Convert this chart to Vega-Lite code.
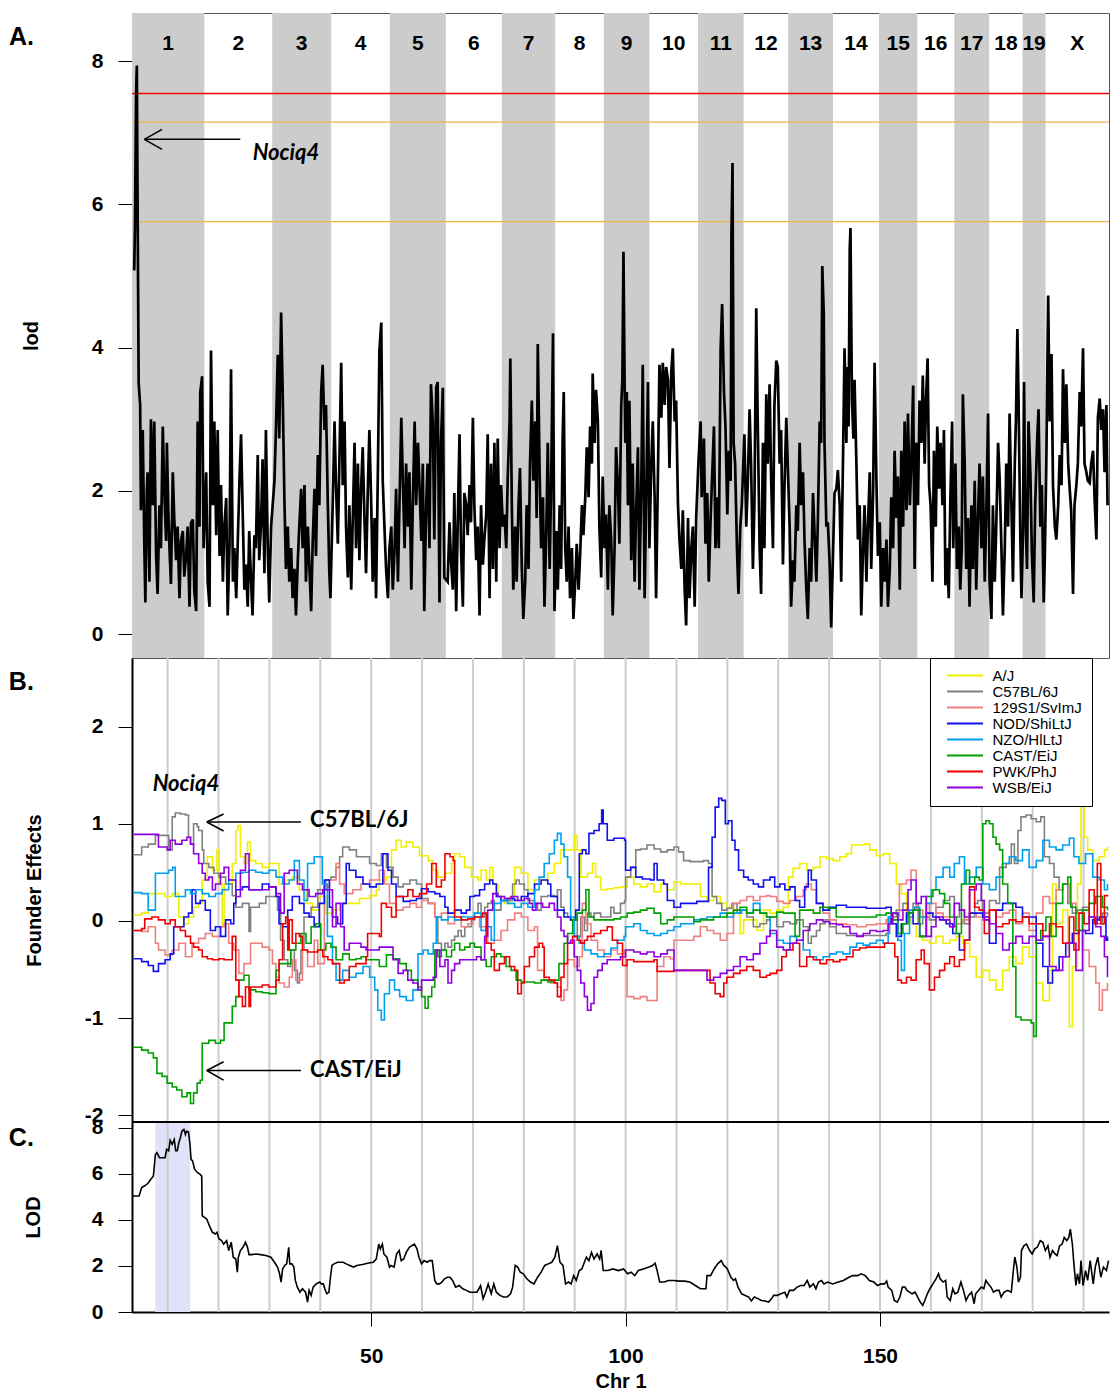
{
"$schema": "https://vega.github.io/schema/vega-lite/v6.json",
"background": "white",
"padding": {"left": 8, "top": 12, "right": 0, "bottom": 0},
"bounds": "flush",
"spacing": 0,
"config": {
 "view": {"stroke": null},
 "axis": {"labelFont": "Liberation Sans", "labelFontWeight": "bold", "labelFontSize": 21, "labelColor": "#000", "titleFont": "Liberation Sans", "titleFontWeight": "bold", "titleFontSize": 20, "titleColor": "#000", "tickColor": "#000", "domainColor": "#000", "grid": false, "labelExpr": "'' + datum.value"},
 "text": {"font": "Liberation Sans"}
},
"datasets": {
 "chroms": [{"chr":"1","start":0,"end":195,"mid":97.5,"shade":1},{"chr":"2","start":195,"end":378,"mid":286.5,"shade":0},{"chr":"3","start":378,"end":537,"mid":457.5,"shade":1},{"chr":"4","start":537,"end":695,"mid":616,"shade":0},{"chr":"5","start":695,"end":846,"mid":770.5,"shade":1},{"chr":"6","start":846,"end":997,"mid":921.5,"shade":0},{"chr":"7","start":997,"end":1141,"mid":1069,"shade":1},{"chr":"8","start":1141,"end":1272,"mid":1206.5,"shade":0},{"chr":"9","start":1272,"end":1395,"mid":1333.5,"shade":1},{"chr":"10","start":1395,"end":1526,"mid":1460.5,"shade":0},{"chr":"11","start":1526,"end":1649,"mid":1587.5,"shade":1},{"chr":"12","start":1649,"end":1769,"mid":1709,"shade":0},{"chr":"13","start":1769,"end":1890,"mid":1829.5,"shade":1},{"chr":"14","start":1890,"end":2014,"mid":1952,"shade":0},{"chr":"15","start":2014,"end":2117,"mid":2065.5,"shade":1},{"chr":"16","start":2117,"end":2217,"mid":2167,"shade":0},{"chr":"17","start":2217,"end":2311,"mid":2264,"shade":1},{"chr":"18","start":2311,"end":2401,"mid":2356,"shade":0},{"chr":"19","start":2401,"end":2463,"mid":2432,"shade":1},{"chr":"X","start":2463,"end":2634,"mid":2548.5,"shade":0}],
 "scan": [{"p":6,"l":5.08},{"p":8,"l":5.7},{"p":11,"l":7.55},{"p":13,"l":7.94},{"p":15,"l":6.1},{"p":18,"l":3.5},{"p":22,"l":3.2},{"p":24,"l":1.73},{"p":29,"l":2.85},{"p":33,"l":1.3},{"p":36,"l":0.44},{"p":40,"l":2.0},{"p":42,"l":2.26},{"p":47,"l":0.73},{"p":51,"l":3.0},{"p":56,"l":1.8},{"p":60,"l":2.97},{"p":65,"l":1.09},{"p":69,"l":0.56},{"p":74,"l":1.8},{"p":78,"l":1.2},{"p":83,"l":2.9},{"p":87,"l":2.0},{"p":92,"l":1.3},{"p":94,"l":2.67},{"p":98,"l":1.7},{"p":101,"l":1.2},{"p":105,"l":0.7},{"p":110,"l":2.26},{"p":114,"l":1.6},{"p":119,"l":1.03},{"p":123,"l":1.5},{"p":128,"l":0.5},{"p":132,"l":1.3},{"p":137,"l":1.44},{"p":141,"l":0.8},{"p":146,"l":1.1},{"p":150,"l":1.5},{"p":155,"l":0.38},{"p":159,"l":1.55},{"p":164,"l":1.6},{"p":168,"l":0.6},{"p":173,"l":0.32},{"p":177,"l":2.97},{"p":182,"l":1.5},{"p":184,"l":3.37},{"p":189,"l":3.6},{"p":191,"l":2.4},{"p":193,"l":1.2},
 {"p":200,"l":2.26},{"p":204,"l":0.73},{"p":209,"l":0.38},{"p":213,"l":3.96},{"p":218,"l":1.8},{"p":222,"l":2.97},{"p":227,"l":1.38},{"p":231,"l":2.85},{"p":236,"l":1.09},{"p":240,"l":2.08},{"p":245,"l":0.73},{"p":249,"l":1.5},{"p":254,"l":1.9},{"p":258,"l":0.26},{"p":263,"l":1.26},{"p":267,"l":3.7},{"p":272,"l":0.73},{"p":276,"l":1.2},{"p":281,"l":0.5},{"p":285,"l":1.26},{"p":290,"l":2.2},{"p":294,"l":2.79},{"p":298,"l":1.8},{"p":303,"l":0.62},{"p":307,"l":0.97},{"p":312,"l":0.38},{"p":316,"l":1.44},{"p":321,"l":0.73},{"p":325,"l":0.26},{"p":330,"l":1.38},{"p":334,"l":1.2},{"p":339,"l":2.5},{"p":343,"l":1.03},{"p":348,"l":1.56},{"p":352,"l":2.44},{"p":357,"l":0.85},{"p":361,"l":2.85},{"p":366,"l":1.2},{"p":370,"l":0.44},{"p":375,"l":1.5},
 {"p":384,"l":2.14},{"p":388,"l":2.85},{"p":393,"l":3.9},{"p":397,"l":2.73},{"p":402,"l":4.49},{"p":406,"l":3.44},{"p":411,"l":1.85},{"p":415,"l":0.91},{"p":420,"l":1.5},{"p":424,"l":0.73},{"p":429,"l":1.2},{"p":433,"l":0.5},{"p":438,"l":0.91},{"p":442,"l":0.26},{"p":447,"l":1.03},{"p":451,"l":1.5},{"p":456,"l":2.03},{"p":460,"l":1.2},{"p":465,"l":2.08},{"p":469,"l":0.73},{"p":474,"l":1.5},{"p":478,"l":0.97},{"p":483,"l":0.32},{"p":487,"l":1.26},{"p":492,"l":2.03},{"p":496,"l":1.09},{"p":501,"l":2.5},{"p":505,"l":1.8},{"p":510,"l":3.38},{"p":514,"l":3.76},{"p":519,"l":2.85},{"p":523,"l":3.2},{"p":528,"l":1.8},{"p":532,"l":0.85},{"p":535,"l":0.5},
 {"p":541,"l":1.8},{"p":546,"l":2.97},{"p":550,"l":2.08},{"p":555,"l":1.26},{"p":559,"l":2.38},{"p":564,"l":3.79},{"p":568,"l":2.08},{"p":573,"l":2.97},{"p":577,"l":1.5},{"p":582,"l":0.79},{"p":586,"l":1.8},{"p":591,"l":0.62},{"p":595,"l":1.56},{"p":600,"l":2.67},{"p":604,"l":1.2},{"p":609,"l":2.38},{"p":613,"l":1.03},{"p":618,"l":2.08},{"p":622,"l":2.61},{"p":627,"l":1.56},{"p":631,"l":0.85},{"p":636,"l":2.08},{"p":640,"l":2.85},{"p":645,"l":1.8},{"p":649,"l":0.73},{"p":654,"l":1.62},{"p":658,"l":0.5},{"p":663,"l":2.32},{"p":667,"l":3.96},{"p":672,"l":4.35},{"p":676,"l":2.14},{"p":681,"l":1.44},{"p":685,"l":0.91},{"p":690,"l":0.5},{"p":694,"l":1.2},
 {"p":699,"l":1.5},{"p":703,"l":0.62},{"p":708,"l":1.2},{"p":712,"l":2.03},{"p":717,"l":0.73},{"p":721,"l":1.8},{"p":726,"l":3.02},{"p":730,"l":2.2},{"p":735,"l":1.2},{"p":739,"l":2.38},{"p":744,"l":1.5},{"p":748,"l":2.26},{"p":753,"l":0.62},{"p":757,"l":1.8},{"p":762,"l":2.97},{"p":766,"l":1.8},{"p":771,"l":2.67},{"p":775,"l":2.08},{"p":780,"l":1.3},{"p":784,"l":2.38},{"p":788,"l":0.32},{"p":793,"l":1.8},{"p":797,"l":2.38},{"p":802,"l":1.2},{"p":806,"l":3.49},{"p":811,"l":2.97},{"p":815,"l":1.32},{"p":820,"l":3.44},{"p":824,"l":3.52},{"p":829,"l":0.44},{"p":833,"l":2.67},{"p":838,"l":3.44},{"p":842,"l":0.79},
 {"p":851,"l":0.73},{"p":856,"l":1.56},{"p":860,"l":1.03},{"p":865,"l":0.62},{"p":869,"l":1.97},{"p":874,"l":0.32},{"p":878,"l":1.5},{"p":883,"l":2.79},{"p":887,"l":1.2},{"p":892,"l":0.38},{"p":896,"l":1.97},{"p":901,"l":1.8},{"p":905,"l":1.38},{"p":910,"l":2.08},{"p":914,"l":1.56},{"p":919,"l":3.02},{"p":923,"l":1.8},{"p":928,"l":1.03},{"p":932,"l":1.5},{"p":937,"l":0.26},{"p":941,"l":1.8},{"p":946,"l":0.97},{"p":950,"l":1.32},{"p":955,"l":1.67},{"p":959,"l":2.79},{"p":964,"l":0.5},{"p":968,"l":2.38},{"p":973,"l":0.91},{"p":977,"l":2.67},{"p":982,"l":0.73},{"p":986,"l":2.73},{"p":991,"l":1.2},{"p":995,"l":2.08},
 {"p":1000,"l":1.5},{"p":1004,"l":1.67},{"p":1009,"l":1.2},{"p":1013,"l":2.2},{"p":1018,"l":2.97},{"p":1020,"l":3.85},{"p":1024,"l":1.8},{"p":1028,"l":0.62},{"p":1033,"l":1.5},{"p":1037,"l":0.73},{"p":1042,"l":1.8},{"p":1046,"l":2.32},{"p":1051,"l":0.91},{"p":1055,"l":0.21},{"p":1060,"l":0.73},{"p":1064,"l":1.8},{"p":1069,"l":0.91},{"p":1073,"l":2.38},{"p":1078,"l":3.26},{"p":1082,"l":2.14},{"p":1087,"l":2.97},{"p":1091,"l":1.62},{"p":1094,"l":4.05},{"p":1099,"l":2.26},{"p":1103,"l":1.2},{"p":1108,"l":1.91},{"p":1112,"l":0.38},{"p":1117,"l":1.44},{"p":1121,"l":2.67},{"p":1126,"l":0.91},{"p":1130,"l":2.08},{"p":1135,"l":4.2},{"p":1139,"l":0.32},
 {"p":1144,"l":1.44},{"p":1148,"l":0.62},{"p":1153,"l":1.8},{"p":1157,"l":0.91},{"p":1161,"l":2.73},{"p":1164,"l":3.38},{"p":1168,"l":1.2},{"p":1172,"l":0.73},{"p":1177,"l":1.5},{"p":1181,"l":0.5},{"p":1186,"l":1.2},{"p":1190,"l":0.21},{"p":1195,"l":0.73},{"p":1199,"l":1.26},{"p":1204,"l":0.62},{"p":1208,"l":1.09},{"p":1213,"l":1.8},{"p":1217,"l":1.38},{"p":1222,"l":1.91},{"p":1226,"l":2.61},{"p":1231,"l":1.91},{"p":1235,"l":2.9},{"p":1240,"l":2.38},{"p":1242,"l":3.64},{"p":1247,"l":2.67},{"p":1251,"l":3.41},{"p":1256,"l":2.97},{"p":1260,"l":1.5},{"p":1265,"l":0.79},{"p":1269,"l":2.2},
 {"p":1274,"l":1.2},{"p":1278,"l":1.67},{"p":1283,"l":0.62},{"p":1287,"l":1.8},{"p":1292,"l":1.32},{"p":1296,"l":0.26},{"p":1301,"l":1.2},{"p":1305,"l":2.61},{"p":1310,"l":2.08},{"p":1314,"l":1.26},{"p":1319,"l":3.2},{"p":1322,"l":3.55},{"p":1325,"l":5.34},{"p":1328,"l":3.55},{"p":1330,"l":2.67},{"p":1334,"l":3.38},{"p":1337,"l":1.8},{"p":1341,"l":3.26},{"p":1346,"l":1.03},{"p":1350,"l":2.38},{"p":1355,"l":0.73},{"p":1359,"l":1.67},{"p":1364,"l":2.61},{"p":1368,"l":0.62},{"p":1373,"l":2.08},{"p":1377,"l":3.76},{"p":1382,"l":0.5},{"p":1386,"l":1.8},{"p":1391,"l":3.52},
 {"p":1395,"l":1.2},{"p":1400,"l":2.38},{"p":1404,"l":2.97},{"p":1409,"l":1.91},{"p":1413,"l":0.5},{"p":1418,"l":2.26},{"p":1422,"l":3.76},{"p":1427,"l":3.02},{"p":1431,"l":3.79},{"p":1436,"l":3.2},{"p":1440,"l":3.73},{"p":1445,"l":3.55},{"p":1449,"l":2.32},{"p":1454,"l":3.67},{"p":1458,"l":3.99},{"p":1463,"l":2.97},{"p":1467,"l":3.26},{"p":1472,"l":1.8},{"p":1476,"l":1.32},{"p":1481,"l":0.91},{"p":1485,"l":1.73},{"p":1490,"l":0.62},{"p":1494,"l":0.12},{"p":1499,"l":1.62},{"p":1503,"l":0.5},{"p":1508,"l":1.2},{"p":1512,"l":1.5},{"p":1517,"l":0.38},{"p":1521,"l":1.62},
 {"p":1527,"l":2.38},{"p":1533,"l":2.97},{"p":1536,"l":1.91},{"p":1542,"l":2.73},{"p":1546,"l":1.26},{"p":1551,"l":1.97},{"p":1555,"l":0.73},{"p":1560,"l":1.62},{"p":1564,"l":2.2},{"p":1569,"l":2.9},{"p":1573,"l":1.2},{"p":1578,"l":1.91},{"p":1582,"l":1.2},{"p":1587,"l":3.99},{"p":1591,"l":4.61},{"p":1596,"l":3.38},{"p":1600,"l":2.9},{"p":1605,"l":1.67},{"p":1609,"l":2.56},{"p":1614,"l":2.14},{"p":1616,"l":5.55},{"p":1619,"l":6.58},{"p":1622,"l":2.67},{"p":1626,"l":2.38},{"p":1631,"l":1.2},{"p":1635,"l":0.56},{"p":1640,"l":1.5},{"p":1644,"l":1.8},
 {"p":1651,"l":2.79},{"p":1656,"l":1.5},{"p":1660,"l":2.08},{"p":1665,"l":3.14},{"p":1669,"l":2.38},{"p":1674,"l":0.91},{"p":1678,"l":1.8},{"p":1683,"l":4.55},{"p":1687,"l":2.97},{"p":1692,"l":1.2},{"p":1696,"l":0.56},{"p":1701,"l":2.67},{"p":1705,"l":1.2},{"p":1710,"l":3.35},{"p":1714,"l":2.38},{"p":1719,"l":3.49},{"p":1723,"l":2.2},{"p":1728,"l":1.2},{"p":1732,"l":3.2},{"p":1737,"l":3.82},{"p":1741,"l":3.73},{"p":1746,"l":2.38},{"p":1750,"l":2.85},{"p":1755,"l":0.97},{"p":1759,"l":2.03},{"p":1764,"l":3.02},
 {"p":1773,"l":1.5},{"p":1777,"l":0.38},{"p":1782,"l":1.03},{"p":1786,"l":0.73},{"p":1791,"l":1.8},{"p":1795,"l":1.44},{"p":1800,"l":2.67},{"p":1804,"l":1.8},{"p":1809,"l":2.26},{"p":1813,"l":1.32},{"p":1818,"l":0.62},{"p":1822,"l":0.21},{"p":1827,"l":1.2},{"p":1831,"l":0.73},{"p":1836,"l":1.97},{"p":1840,"l":1.44},{"p":1845,"l":0.73},{"p":1849,"l":1.56},{"p":1854,"l":2.97},{"p":1858,"l":2.67},{"p":1861,"l":5.14},{"p":1865,"l":4.49},{"p":1867,"l":2.67},{"p":1872,"l":1.5},{"p":1876,"l":1.56},{"p":1881,"l":0.97},{"p":1885,"l":0.09},
 {"p":1894,"l":1.97},{"p":1899,"l":2.03},{"p":1903,"l":2.29},{"p":1908,"l":1.8},{"p":1912,"l":0.73},{"p":1917,"l":2.5},{"p":1921,"l":3.99},{"p":1926,"l":2.67},{"p":1928,"l":3.73},{"p":1932,"l":2.9},{"p":1935,"l":5.37},{"p":1937,"l":5.67},{"p":1941,"l":3.26},{"p":1945,"l":2.73},{"p":1948,"l":3.55},{"p":1953,"l":2.38},{"p":1957,"l":1.32},{"p":1962,"l":1.8},{"p":1966,"l":0.26},{"p":1971,"l":1.2},{"p":1975,"l":1.8},{"p":1980,"l":0.73},{"p":1984,"l":1.5},{"p":1989,"l":2.26},{"p":1993,"l":0.91},{"p":1998,"l":1.97},{"p":2002,"l":3.79},{"p":2007,"l":2.14},{"p":2011,"l":1.09},
 {"p":2016,"l":1.56},{"p":2020,"l":0.38},{"p":2025,"l":1.2},{"p":2029,"l":0.73},{"p":2034,"l":1.32},{"p":2038,"l":0.38},{"p":2043,"l":0.91},{"p":2047,"l":1.91},{"p":2052,"l":1.2},{"p":2056,"l":2.56},{"p":2061,"l":1.62},{"p":2065,"l":2.2},{"p":2070,"l":0.62},{"p":2074,"l":2.56},{"p":2079,"l":1.5},{"p":2083,"l":2.97},{"p":2088,"l":1.73},{"p":2092,"l":3.08},{"p":2097,"l":1.8},{"p":2101,"l":2.38},{"p":2106,"l":3.47},{"p":2110,"l":0.91},{"p":2114,"l":2.67},
 {"p":2119,"l":1.8},{"p":2123,"l":3.26},{"p":2128,"l":2.67},{"p":2132,"l":3.61},{"p":2137,"l":2.38},{"p":2141,"l":3.32},{"p":2145,"l":3.85},{"p":2149,"l":2.08},{"p":2153,"l":1.8},{"p":2158,"l":0.73},{"p":2162,"l":2.56},{"p":2167,"l":1.5},{"p":2171,"l":2.9},{"p":2176,"l":2.03},{"p":2180,"l":2.67},{"p":2185,"l":1.8},{"p":2189,"l":2.85},{"p":2193,"l":0.68},{"p":2197,"l":1.2},{"p":2202,"l":0.5},{"p":2206,"l":1.8},{"p":2211,"l":2.97},{"p":2214,"l":1.2},
 {"p":2220,"l":2.38},{"p":2224,"l":0.91},{"p":2229,"l":1.5},{"p":2233,"l":0.62},{"p":2237,"l":1.2},{"p":2240,"l":3.35},{"p":2245,"l":2.38},{"p":2249,"l":0.91},{"p":2254,"l":1.62},{"p":2258,"l":0.38},{"p":2263,"l":1.8},{"p":2267,"l":0.91},{"p":2272,"l":2.14},{"p":2276,"l":0.62},{"p":2281,"l":1.67},{"p":2285,"l":2.38},{"p":2290,"l":1.2},{"p":2294,"l":2.2},{"p":2299,"l":0.73},{"p":2303,"l":1.62},{"p":2308,"l":3.08},
 {"p":2312,"l":0.73},{"p":2317,"l":0.21},{"p":2321,"l":1.8},{"p":2326,"l":0.73},{"p":2330,"l":1.5},{"p":2335,"l":2.67},{"p":2339,"l":2.2},{"p":2344,"l":1.2},{"p":2348,"l":0.26},{"p":2353,"l":1.2},{"p":2357,"l":2.38},{"p":2362,"l":1.5},{"p":2366,"l":3.08},{"p":2371,"l":1.8},{"p":2375,"l":0.73},{"p":2380,"l":2.38},{"p":2383,"l":2.97},{"p":2387,"l":4.26},{"p":2390,"l":3.32},{"p":2395,"l":1.32},{"p":2398,"l":0.5},
 {"p":2402,"l":1.38},{"p":2405,"l":3.52},{"p":2408,"l":1.8},{"p":2413,"l":0.91},{"p":2417,"l":2.97},{"p":2422,"l":2.26},{"p":2426,"l":1.14},{"p":2431,"l":0.44},{"p":2435,"l":1.8},{"p":2440,"l":2.67},{"p":2444,"l":3.14},{"p":2449,"l":1.5},{"p":2453,"l":2.08},{"p":2458,"l":0.44},{"p":2461,"l":1.09},
 {"p":2465,"l":2.38},{"p":2470,"l":4.73},{"p":2474,"l":2.97},{"p":2479,"l":3.91},{"p":2483,"l":2.08},{"p":2488,"l":1.5},{"p":2492,"l":1.32},{"p":2497,"l":1.8},{"p":2501,"l":2.5},{"p":2506,"l":2.08},{"p":2510,"l":3.7},{"p":2515,"l":2.67},{"p":2519,"l":3.49},{"p":2524,"l":2.38},{"p":2528,"l":2.03},{"p":2532,"l":1.73},{"p":2537,"l":0.56},{"p":2541,"l":1.8},{"p":2546,"l":2.08},{"p":2550,"l":2.38},{"p":2555,"l":3.38},{"p":2559,"l":2.9},{"p":2564,"l":3.99},{"p":2568,"l":2.38},{"p":2573,"l":2.26},{"p":2577,"l":2.14},{"p":2582,"l":2.11},{"p":2586,"l":2.38},{"p":2591,"l":2.56},{"p":2595,"l":1.91},{"p":2600,"l":1.32},{"p":2604,"l":3.02},{"p":2609,"l":3.29},{"p":2613,"l":2.85},{"p":2618,"l":3.14},{"p":2622,"l":2.26},{"p":2627,"l":3.2},{"p":2630,"l":1.8}],
 "arrA": [{"x":33.3,"y":6.91,"x2":292,"y2":6.91},{"x":33.3,"y":6.91,"x2":81,"y2":7.05},{"x":33.3,"y":6.91,"x2":81,"y2":6.77}],
 "arrB": [{"x":17.7,"y":1.017,"x2":36.2,"y2":1.017},{"x":17.7,"y":1.017,"x2":21.0,"y2":1.10},{"x":17.7,"y":1.017,"x2":21.0,"y2":0.925},{"x":17.7,"y":-1.54,"x2":36.2,"y2":-1.54},{"x":17.7,"y":-1.54,"x2":21.0,"y2":-1.45},{"x":17.7,"y":-1.54,"x2":21.0,"y2":-1.64}],
 "grid": [{"m":10},{"m":20},{"m":30},{"m":40},{"m":50},{"m":60},{"m":70},{"m":80},{"m":90},{"m":100},{"m":110},{"m":120},{"m":130},{"m":140},{"m":150},{"m":160},{"m":170},{"m":180},{"m":190}],
 "aj": [{"x":3.3,"y":0.06},{"x":4.9,"y":0.08},{"x":6.2,"y":0.28},{"x":8.2,"y":0.28},{"x":9.5,"y":0.25},{"x":10.9,"y":0.28},{"x":12.2,"y":0.04},{"x":13.2,"y":-0.03},{"x":14.1,"y":0.04},{"x":15.1,"y":0.14},{"x":16.1,"y":0.18},{"x":16.8,"y":0.42},{"x":17.8,"y":0.66},{"x":18.8,"y":0.52},{"x":19.7,"y":0.73},{"x":20.1,"y":0.38},{"x":20.7,"y":-0.06},{"x":21.1,"y":0.38},{"x":22.7,"y":0.59},{"x":23.4,"y":0.93},{"x":23.8,"y":0.98},{"x":24.3,"y":0.66},{"x":25.0,"y":0.59},{"x":25.7,"y":0.81},{"x":26.3,"y":0.62},{"x":27.3,"y":0.59},{"x":28.6,"y":0.55},{"x":29.9,"y":0.59},{"x":31.3,"y":0.59},{"x":31.9,"y":0.38},{"x":33.2,"y":0.42},{"x":34.5,"y":0.45},{"x":35.9,"y":0.32},{"x":37.2,"y":0.18},{"x":38.5,"y":0.11},{"x":39.8,"y":0.25},{"x":41.1,"y":0.08},{"x":42.4,"y":0.11},{"x":43.8,"y":0.18},{"x":45.7,"y":0.18},{"x":47.7,"y":0.23},{"x":49.7,"y":0.26},{"x":51.0,"y":0.32},{"x":51.6,"y":0.42},{"x":53.0,"y":0.45},{"x":54.0,"y":0.73},{"x":54.9,"y":0.83},{"x":55.9,"y":0.76},{"x":56.9,"y":0.81},{"x":58.2,"y":0.76},{"x":59.5,"y":0.67},{"x":61.2,"y":0.62},{"x":62.2,"y":0.52},{"x":63.1,"y":0.45},{"x":64.5,"y":0.49},{"x":65.8,"y":0.59},{"x":66.4,"y":0.69},{"x":67.4,"y":0.66},{"x":68.4,"y":0.55},{"x":69.7,"y":0.45},{"x":71.0,"y":0.42},{"x":71.6,"y":0.52},{"x":72.6,"y":0.42},{"x":73.3,"y":0.55},{"x":73.9,"y":0.38},{"x":74.9,"y":0.25},{"x":76.2,"y":0.18},{"x":77.2,"y":0.25},{"x":78.2,"y":0.55},{"x":79.5,"y":0.49},{"x":80.8,"y":0.32},{"x":82.1,"y":0.42},{"x":83.4,"y":0.42},{"x":84.7,"y":0.49},{"x":86.0,"y":0.59},{"x":87.3,"y":0.73},{"x":88.6,"y":0.73},{"x":89.9,"y":0.88},{"x":90.5,"y":0.73},{"x":91.2,"y":0.45},{"x":92.5,"y":0.49},{"x":93.5,"y":0.59},{"x":94.1,"y":0.45},{"x":95.1,"y":0.32},{"x":96.4,"y":0.33},{"x":97.7,"y":0.34},{"x":99.0,"y":0.35},{"x":100.3,"y":0.45},{"x":101.6,"y":0.38},{"x":102.9,"y":0.35},{"x":104.2,"y":0.38},{"x":105.6,"y":0.30},{"x":106.9,"y":0.38},{"x":108.2,"y":0.32},{"x":109.5,"y":0.40},{"x":110.8,"y":0.38},{"x":112.1,"y":0.38},{"x":113.4,"y":0.38},{"x":114.7,"y":0.25},{"x":116.0,"y":0.21},{"x":117.3,"y":0.25},{"x":118.6,"y":0.18},{"x":119.9,"y":0.14},{"x":121.2,"y":0.08},{"x":122.5,"y":-0.13},{"x":123.2,"y":0.01},{"x":124.5,"y":0.01},{"x":125.8,"y":-0.10},{"x":127.1,"y":0.11},{"x":128.4,"y":0.08},{"x":129.7,"y":0.11},{"x":131.0,"y":0.14},{"x":132.0,"y":0.45},{"x":132.9,"y":0.54},{"x":134.2,"y":0.59},{"x":135.6,"y":0.52},{"x":136.9,"y":0.55},{"x":138.2,"y":0.66},{"x":139.5,"y":0.64},{"x":140.8,"y":0.62},{"x":142.1,"y":0.66},{"x":143.4,"y":0.69},{"x":144.4,"y":0.78},{"x":145.7,"y":0.78},{"x":147.0,"y":0.79},{"x":148.0,"y":0.73},{"x":149.3,"y":0.67},{"x":150.6,"y":0.69},{"x":151.9,"y":0.59},{"x":153.2,"y":0.38},{"x":154.2,"y":0.28},{"x":155.2,"y":0.04},{"x":156.1,"y":-0.03},{"x":157.1,"y":-0.16},{"x":158.4,"y":-0.20},{"x":159.7,"y":-0.23},{"x":161.0,"y":-0.16},{"x":162.4,"y":-0.23},{"x":163.7,"y":-0.20},{"x":165.0,"y":-0.16},{"x":166.3,"y":-0.23},{"x":167.6,"y":-0.37},{"x":168.9,"y":-0.58},{"x":170.2,"y":-0.51},{"x":171.5,"y":-0.61},{"x":172.8,"y":-0.71},{"x":174.1,"y":-0.51},{"x":175.4,"y":-0.37},{"x":176.7,"y":-0.44},{"x":178.0,"y":-0.27},{"x":179.3,"y":-0.37},{"x":180.7,"y":-0.64},{"x":182.0,"y":-0.82},{"x":183.3,"y":-0.51},{"x":183.9,"y":0.38},{"x":184.6,"y":-0.03},{"x":185.9,"y":0.11},{"x":186.9,"y":-0.30},{"x":187.2,"y":-1.09},{"x":187.8,"y":-0.47},{"x":188.8,"y":0.38},{"x":189.5,"y":1.21},{"x":190.1,"y":0.86},{"x":190.8,"y":0.73},{"x":191.8,"y":0.62},{"x":193.1,"y":0.66},{"x":194.1,"y":0.73},{"x":194.7,"y":0.76}],
 "b6": [{"x":3.3,"y":0.68},{"x":4.9,"y":0.76},{"x":6.2,"y":0.79},{"x":7.6,"y":0.88},{"x":9.9,"y":0.88},{"x":10.2,"y":0.73},{"x":10.9,"y":1.07},{"x":11.5,"y":1.11},{"x":12.5,"y":1.10},{"x":13.5,"y":1.09},{"x":14.1,"y":0.86},{"x":14.5,"y":0.79},{"x":15.1,"y":1.0},{"x":15.8,"y":0.97},{"x":16.1,"y":0.93},{"x":16.8,"y":0.73},{"x":17.1,"y":0.59},{"x":18.1,"y":0.55},{"x":19.1,"y":0.49},{"x":20.1,"y":0.45},{"x":21.4,"y":0.38},{"x":22.7,"y":0.26},{"x":23.4,"y":0.14},{"x":24.7,"y":0.18},{"x":26.0,"y":-0.11},{"x":26.3,"y":0.14},{"x":28.0,"y":0.18},{"x":29.3,"y":0.25},{"x":30.6,"y":0.25},{"x":31.6,"y":0.11},{"x":32.2,"y":-0.20},{"x":32.9,"y":-0.40},{"x":33.6,"y":-0.47},{"x":34.2,"y":-0.30},{"x":34.9,"y":-0.51},{"x":35.5,"y":-0.64},{"x":35.9,"y":-0.54},{"x":36.2,"y":-0.30},{"x":36.8,"y":0.04},{"x":38.2,"y":0.14},{"x":39.5,"y":0.32},{"x":41.1,"y":0.42},{"x":42.1,"y":0.45},{"x":43.1,"y":0.55},{"x":43.8,"y":0.66},{"x":44.4,"y":0.76},{"x":45.7,"y":0.73},{"x":47.1,"y":0.66},{"x":48.4,"y":0.66},{"x":49.7,"y":0.59},{"x":51.0,"y":0.57},{"x":52.0,"y":0.69},{"x":53.0,"y":0.55},{"x":54.3,"y":0.45},{"x":55.3,"y":0.35},{"x":56.3,"y":0.38},{"x":57.6,"y":0.42},{"x":58.9,"y":0.38},{"x":59.9,"y":0.23},{"x":61.2,"y":0.18},{"x":62.5,"y":0.04},{"x":63.1,"y":-0.23},{"x":63.8,"y":-0.30},{"x":64.5,"y":-0.23},{"x":65.1,"y":-0.27},{"x":65.8,"y":-0.20},{"x":66.4,"y":-0.16},{"x":67.1,"y":-0.10},{"x":67.7,"y":-0.16},{"x":68.4,"y":-0.06},{"x":69.0,"y":-0.06},{"x":69.7,"y":0.01},{"x":70.3,"y":0.08},{"x":71.0,"y":0.18},{"x":71.6,"y":0.04},{"x":72.3,"y":0.14},{"x":72.9,"y":0.18},{"x":73.6,"y":0.21},{"x":74.2,"y":0.11},{"x":75.5,"y":0.21},{"x":76.8,"y":0.21},{"x":77.8,"y":0.38},{"x":78.5,"y":0.42},{"x":79.1,"y":0.38},{"x":80.1,"y":0.32},{"x":80.8,"y":0.21},{"x":82.1,"y":0.18},{"x":82.7,"y":0.11},{"x":83.4,"y":0.25},{"x":84.7,"y":0.26},{"x":86.0,"y":0.25},{"x":86.6,"y":0.32},{"x":87.3,"y":0.14},{"x":87.9,"y":0.08},{"x":88.6,"y":0.04},{"x":89.2,"y":0.01},{"x":89.9,"y":0.04},{"x":90.5,"y":-0.16},{"x":91.2,"y":0.04},{"x":91.9,"y":-0.10},{"x":92.5,"y":0.08},{"x":93.2,"y":0.04},{"x":93.8,"y":0.08},{"x":95.1,"y":0.04},{"x":96.4,"y":0.04},{"x":97.1,"y":0.14},{"x":97.7,"y":0.08},{"x":99.0,"y":0.18},{"x":99.8,"y":0.21},{"x":100.0,"y":0.45},{"x":101.0,"y":0.55},{"x":102.0,"y":0.73},{"x":102.9,"y":0.74},{"x":104.2,"y":0.78},{"x":105.6,"y":0.74},{"x":106.9,"y":0.71},{"x":108.2,"y":0.73},{"x":109.5,"y":0.76},{"x":110.4,"y":0.71},{"x":111.4,"y":0.62},{"x":112.7,"y":0.61},{"x":114.0,"y":0.61},{"x":115.3,"y":0.62},{"x":116.3,"y":0.59},{"x":117.0,"y":0.25},{"x":117.9,"y":0.18},{"x":118.9,"y":0.11},{"x":119.9,"y":0.13},{"x":120.9,"y":0.18},{"x":121.9,"y":0.08},{"x":122.8,"y":0.11},{"x":123.8,"y":0.04},{"x":125.1,"y":-0.06},{"x":126.4,"y":-0.03},{"x":127.7,"y":0.01},{"x":128.4,"y":0.04},{"x":129.7,"y":-0.06},{"x":131.0,"y":-0.01},{"x":132.3,"y":-0.03},{"x":133.6,"y":0.01},{"x":134.9,"y":-0.06},{"x":135.9,"y":-0.23},{"x":136.5,"y":-0.16},{"x":137.5,"y":-0.10},{"x":138.2,"y":-0.03},{"x":139.2,"y":0.01},{"x":140.1,"y":-0.06},{"x":141.4,"y":-0.13},{"x":143.4,"y":-0.15},{"x":145.4,"y":-0.15},{"x":147.3,"y":-0.15},{"x":149.3,"y":-0.15},{"x":151.2,"y":-0.13},{"x":151.9,"y":0.04},{"x":153.2,"y":0.11},{"x":154.5,"y":0.18},{"x":155.5,"y":0.04},{"x":156.5,"y":0.18},{"x":157.5,"y":-0.03},{"x":158.4,"y":0.04},{"x":159.7,"y":0.01},{"x":161.0,"y":0.14},{"x":162.4,"y":0.21},{"x":163.7,"y":0.25},{"x":164.6,"y":0.04},{"x":165.6,"y":0.11},{"x":166.6,"y":-0.03},{"x":167.6,"y":0.04},{"x":168.6,"y":0.18},{"x":169.2,"y":0.21},{"x":170.2,"y":0.08},{"x":171.5,"y":0.21},{"x":172.8,"y":0.18},{"x":173.5,"y":0.55},{"x":174.8,"y":0.59},{"x":175.8,"y":0.79},{"x":176.4,"y":0.59},{"x":177.1,"y":0.93},{"x":177.7,"y":1.07},{"x":178.7,"y":1.09},{"x":179.7,"y":1.05},{"x":180.7,"y":1.02},{"x":181.6,"y":1.07},{"x":182.3,"y":0.66},{"x":183.3,"y":0.59},{"x":184.2,"y":0.45},{"x":185.2,"y":0.32},{"x":185.9,"y":0.38},{"x":186.9,"y":0.18},{"x":187.8,"y":0.08},{"x":188.8,"y":0.11},{"x":189.8,"y":0.14},{"x":191.1,"y":0.04},{"x":192.4,"y":-0.03},{"x":193.7,"y":0.08},{"x":194.7,"y":0.04}],
 "s129": [{"x":3.3,"y":-0.10},{"x":4.9,"y":-0.11},{"x":6.2,"y":-0.06},{"x":7.6,"y":-0.23},{"x":8.2,"y":-0.30},{"x":9.5,"y":-0.35},{"x":10.9,"y":-0.30},{"x":12.2,"y":-0.23},{"x":13.5,"y":-0.37},{"x":14.8,"y":-0.23},{"x":16.1,"y":-0.18},{"x":17.4,"y":-0.13},{"x":18.8,"y":-0.16},{"x":20.4,"y":-0.06},{"x":21.1,"y":-0.03},{"x":22.0,"y":-0.23},{"x":23.0,"y":-0.30},{"x":24.0,"y":-0.54},{"x":25.0,"y":-0.44},{"x":26.3,"y":-0.23},{"x":27.3,"y":-0.23},{"x":28.6,"y":-0.27},{"x":29.9,"y":-0.30},{"x":30.6,"y":-0.44},{"x":31.3,"y":-0.58},{"x":31.9,"y":-0.64},{"x":32.9,"y":-0.68},{"x":33.9,"y":-0.58},{"x":34.5,"y":-0.40},{"x":35.2,"y":-0.61},{"x":36.5,"y":-0.30},{"x":37.5,"y":-0.47},{"x":38.8,"y":-0.20},{"x":39.5,"y":-0.44},{"x":40.8,"y":0.35},{"x":41.8,"y":0.42},{"x":43.1,"y":0.59},{"x":43.8,"y":0.38},{"x":44.7,"y":0.28},{"x":46.4,"y":0.32},{"x":48.0,"y":0.38},{"x":49.7,"y":0.42},{"x":51.6,"y":0.52},{"x":52.6,"y":0.38},{"x":53.6,"y":0.18},{"x":54.9,"y":0.11},{"x":56.3,"y":0.14},{"x":57.6,"y":0.18},{"x":58.9,"y":0.14},{"x":59.9,"y":0.21},{"x":61.2,"y":0.18},{"x":62.5,"y":0.04},{"x":63.8,"y":0.08},{"x":65.1,"y":-0.03},{"x":66.4,"y":0.01},{"x":67.7,"y":-0.06},{"x":69.0,"y":-0.03},{"x":70.0,"y":0.04},{"x":71.3,"y":-0.06},{"x":72.9,"y":-0.23},{"x":74.2,"y":-0.20},{"x":75.5,"y":-0.10},{"x":76.8,"y":0.01},{"x":78.2,"y":0.08},{"x":79.5,"y":0.04},{"x":80.8,"y":-0.10},{"x":82.1,"y":-0.06},{"x":82.7,"y":-0.51},{"x":84.0,"y":-0.61},{"x":85.3,"y":-0.64},{"x":86.6,"y":-0.68},{"x":87.3,"y":-0.82},{"x":87.9,"y":-0.71},{"x":88.6,"y":-0.40},{"x":89.9,"y":-0.47},{"x":90.9,"y":-0.37},{"x":91.5,"y":0.18},{"x":92.2,"y":-0.03},{"x":93.2,"y":-0.20},{"x":94.5,"y":-0.30},{"x":95.8,"y":-0.37},{"x":97.1,"y":-0.30},{"x":98.4,"y":-0.34},{"x":99.7,"y":-0.30},{"x":100.0,"y":-0.47},{"x":100.3,"y":-0.78},{"x":101.6,"y":-0.80},{"x":102.9,"y":-0.78},{"x":104.2,"y":-0.82},{"x":105.6,"y":-0.82},{"x":106.2,"y":-0.47},{"x":107.5,"y":-0.37},{"x":108.8,"y":-0.39},{"x":109.5,"y":-0.20},{"x":111.4,"y":-0.20},{"x":113.4,"y":-0.16},{"x":114.7,"y":-0.06},{"x":116.0,"y":-0.10},{"x":117.3,"y":-0.13},{"x":118.6,"y":-0.20},{"x":119.9,"y":-0.13},{"x":121.2,"y":0.18},{"x":122.5,"y":0.21},{"x":123.8,"y":0.25},{"x":125.1,"y":0.21},{"x":126.4,"y":0.25},{"x":127.7,"y":0.26},{"x":128.4,"y":0.25},{"x":129.7,"y":0.20},{"x":131.0,"y":0.18},{"x":132.3,"y":0.21},{"x":133.6,"y":0.25},{"x":134.9,"y":0.32},{"x":135.5,"y":0.38},{"x":136.5,"y":0.32},{"x":137.5,"y":0.18},{"x":138.8,"y":0.08},{"x":140.1,"y":0.01},{"x":141.4,"y":-0.03},{"x":143.4,"y":-0.04},{"x":145.4,"y":-0.06},{"x":147.3,"y":-0.04},{"x":149.3,"y":-0.03},{"x":151.2,"y":0.01},{"x":152.5,"y":0.04},{"x":153.8,"y":0.38},{"x":155.2,"y":0.42},{"x":156.1,"y":0.52},{"x":157.1,"y":0.11},{"x":158.4,"y":0.04},{"x":159.7,"y":0.18},{"x":161.0,"y":0.08},{"x":162.4,"y":0.04},{"x":163.7,"y":-0.06},{"x":165.0,"y":-0.03},{"x":166.3,"y":0.01},{"x":167.6,"y":0.08},{"x":168.9,"y":0.04},{"x":170.2,"y":0.01},{"x":171.5,"y":0.11},{"x":172.8,"y":0.04},{"x":174.1,"y":0.08},{"x":175.4,"y":0.11},{"x":176.7,"y":-0.03},{"x":178.0,"y":0.08},{"x":179.3,"y":-0.10},{"x":180.7,"y":0.08},{"x":182.0,"y":0.25},{"x":183.3,"y":0.18},{"x":184.6,"y":0.32},{"x":185.9,"y":0.38},{"x":187.2,"y":0.18},{"x":188.5,"y":0.08},{"x":189.8,"y":-0.30},{"x":191.1,"y":-0.47},{"x":192.4,"y":-0.64},{"x":193.1,"y":-0.92},{"x":193.7,"y":-0.71},{"x":194.7,"y":-0.64}],
 "nod": [{"x":3.3,"y":-0.39},{"x":4.9,"y":-0.42},{"x":6.2,"y":-0.46},{"x":7.2,"y":-0.52},{"x":8.2,"y":-0.44},{"x":9.5,"y":-0.40},{"x":10.5,"y":-0.34},{"x":11.2,"y":-0.06},{"x":12.2,"y":-0.06},{"x":13.2,"y":0.04},{"x":14.1,"y":0.08},{"x":14.8,"y":0.32},{"x":15.5,"y":0.18},{"x":16.4,"y":0.21},{"x":17.4,"y":0.11},{"x":18.4,"y":-0.10},{"x":19.4,"y":-0.06},{"x":20.4,"y":-0.16},{"x":21.4,"y":0.01},{"x":22.4,"y":-0.03},{"x":23.0,"y":0.18},{"x":23.4,"y":0.32},{"x":24.7,"y":0.35},{"x":26.0,"y":0.32},{"x":27.3,"y":0.32},{"x":28.6,"y":0.38},{"x":29.9,"y":0.35},{"x":31.3,"y":0.25},{"x":31.9,"y":-0.03},{"x":32.6,"y":-0.06},{"x":33.6,"y":0.11},{"x":34.5,"y":0.25},{"x":35.9,"y":0.18},{"x":36.8,"y":0.08},{"x":37.8,"y":0.04},{"x":38.8,"y":-0.06},{"x":39.8,"y":0.18},{"x":40.8,"y":0.42},{"x":41.8,"y":0.14},{"x":42.4,"y":0.04},{"x":43.4,"y":-0.03},{"x":44.4,"y":0.18},{"x":45.1,"y":0.59},{"x":45.7,"y":0.52},{"x":47.0,"y":0.45},{"x":48.4,"y":0.38},{"x":49.7,"y":0.35},{"x":51.0,"y":0.38},{"x":52.3,"y":0.69},{"x":53.3,"y":0.52},{"x":54.0,"y":0.38},{"x":54.9,"y":0.25},{"x":56.3,"y":0.20},{"x":57.6,"y":0.21},{"x":58.9,"y":0.23},{"x":59.9,"y":0.33},{"x":61.2,"y":0.30},{"x":62.5,"y":0.28},{"x":63.5,"y":0.25},{"x":64.5,"y":0.14},{"x":65.1,"y":0.08},{"x":66.4,"y":0.11},{"x":67.7,"y":0.08},{"x":68.7,"y":0.11},{"x":69.4,"y":0.25},{"x":70.3,"y":0.26},{"x":71.3,"y":0.32},{"x":72.3,"y":0.38},{"x":73.3,"y":0.42},{"x":73.9,"y":0.38},{"x":74.6,"y":0.25},{"x":75.5,"y":0.21},{"x":76.8,"y":0.23},{"x":78.2,"y":0.21},{"x":79.5,"y":0.25},{"x":80.8,"y":0.28},{"x":82.1,"y":0.38},{"x":83.4,"y":0.42},{"x":84.7,"y":0.38},{"x":85.3,"y":0.25},{"x":86.6,"y":0.11},{"x":87.9,"y":0.04},{"x":89.2,"y":0.01},{"x":90.2,"y":0.11},{"x":90.9,"y":0.69},{"x":91.5,"y":0.73},{"x":92.2,"y":0.69},{"x":92.8,"y":0.90},{"x":93.8,"y":0.93},{"x":94.8,"y":1.0},{"x":95.3,"y":1.14},{"x":95.6,"y":1.0},{"x":96.4,"y":0.83},{"x":97.7,"y":0.85},{"x":99.0,"y":0.85},{"x":99.8,"y":0.83},{"x":100.0,"y":0.52},{"x":101.0,"y":0.55},{"x":102.0,"y":0.45},{"x":103.3,"y":0.43},{"x":104.9,"y":0.42},{"x":105.6,"y":0.59},{"x":106.2,"y":0.42},{"x":107.5,"y":0.38},{"x":108.2,"y":0.21},{"x":109.5,"y":0.14},{"x":110.8,"y":0.18},{"x":112.1,"y":0.18},{"x":114.0,"y":0.20},{"x":115.7,"y":0.20},{"x":116.3,"y":0.55},{"x":117.0,"y":0.86},{"x":117.6,"y":1.17},{"x":118.3,"y":1.26},{"x":118.9,"y":1.24},{"x":119.6,"y":1.0},{"x":120.2,"y":1.03},{"x":120.9,"y":0.83},{"x":121.5,"y":0.73},{"x":122.2,"y":0.52},{"x":123.2,"y":0.45},{"x":124.1,"y":0.42},{"x":125.1,"y":0.38},{"x":126.1,"y":0.35},{"x":127.1,"y":0.42},{"x":128.4,"y":0.45},{"x":129.3,"y":0.35},{"x":130.3,"y":0.38},{"x":131.3,"y":0.32},{"x":132.3,"y":0.35},{"x":133.3,"y":0.21},{"x":134.2,"y":0.14},{"x":135.2,"y":0.35},{"x":135.9,"y":0.52},{"x":136.5,"y":0.42},{"x":137.5,"y":0.18},{"x":138.8,"y":0.11},{"x":140.1,"y":0.14},{"x":141.4,"y":0.16},{"x":143.4,"y":0.14},{"x":145.4,"y":0.14},{"x":147.3,"y":0.13},{"x":149.3,"y":0.13},{"x":151.2,"y":0.14},{"x":152.2,"y":-0.03},{"x":153.2,"y":-0.16},{"x":154.2,"y":-0.03},{"x":155.2,"y":0.08},{"x":156.5,"y":-0.03},{"x":157.8,"y":-0.16},{"x":159.1,"y":0.08},{"x":160.4,"y":0.04},{"x":161.7,"y":0.01},{"x":163.0,"y":-0.03},{"x":164.3,"y":-0.13},{"x":165.6,"y":-0.30},{"x":166.6,"y":-0.20},{"x":167.6,"y":0.08},{"x":168.9,"y":0.08},{"x":170.2,"y":0.04},{"x":171.5,"y":-0.23},{"x":172.8,"y":0.11},{"x":174.1,"y":0.18},{"x":175.4,"y":0.18},{"x":176.7,"y":0.14},{"x":178.0,"y":0.04},{"x":179.3,"y":0.04},{"x":180.7,"y":-0.23},{"x":182.0,"y":-0.47},{"x":183.0,"y":-0.64},{"x":183.9,"y":-0.51},{"x":185.2,"y":-0.37},{"x":186.5,"y":-0.23},{"x":187.8,"y":-0.13},{"x":189.1,"y":-0.10},{"x":190.4,"y":-0.13},{"x":191.8,"y":0.01},{"x":193.1,"y":0.04},{"x":194.4,"y":-0.20},{"x":194.7,"y":-0.16}],
 "nzo": [{"x":3.3,"y":0.29},{"x":4.9,"y":0.28},{"x":6.2,"y":0.11},{"x":7.6,"y":0.49},{"x":8.9,"y":0.49},{"x":10.2,"y":0.52},{"x":11.0,"y":0.55},{"x":11.5,"y":0.25},{"x":12.5,"y":0.25},{"x":13.5,"y":0.32},{"x":14.5,"y":0.28},{"x":15.5,"y":0.32},{"x":16.8,"y":0.28},{"x":18.1,"y":0.25},{"x":19.4,"y":0.28},{"x":20.7,"y":0.32},{"x":22.0,"y":0.42},{"x":23.4,"y":0.49},{"x":24.7,"y":0.50},{"x":26.0,"y":0.52},{"x":27.3,"y":0.50},{"x":28.6,"y":0.49},{"x":29.9,"y":0.52},{"x":31.3,"y":0.45},{"x":32.6,"y":0.38},{"x":33.9,"y":0.42},{"x":34.9,"y":0.62},{"x":35.9,"y":0.42},{"x":36.8,"y":0.21},{"x":37.5,"y":0.59},{"x":38.8,"y":0.66},{"x":39.8,"y":0.66},{"x":40.4,"y":0.38},{"x":41.4,"y":-0.16},{"x":42.4,"y":-0.44},{"x":43.1,"y":-0.61},{"x":44.4,"y":-0.51},{"x":45.7,"y":-0.58},{"x":47.0,"y":-0.54},{"x":48.4,"y":-0.47},{"x":49.7,"y":-0.58},{"x":50.7,"y":-0.71},{"x":51.3,"y":-0.92},{"x":52.0,"y":-1.02},{"x":52.6,"y":-0.75},{"x":53.6,"y":-0.61},{"x":54.6,"y":-0.71},{"x":55.6,"y":-0.78},{"x":56.9,"y":-0.82},{"x":58.2,"y":-0.71},{"x":59.2,"y":-0.34},{"x":60.2,"y":-0.30},{"x":61.2,"y":-0.34},{"x":62.2,"y":-0.23},{"x":62.8,"y":0.04},{"x":63.8,"y":0.01},{"x":65.1,"y":0.04},{"x":66.4,"y":0.01},{"x":67.7,"y":0.04},{"x":69.0,"y":0.04},{"x":70.3,"y":0.08},{"x":71.6,"y":-0.10},{"x":72.6,"y":-0.06},{"x":73.6,"y":-0.20},{"x":74.2,"y":0.18},{"x":75.5,"y":0.21},{"x":76.8,"y":0.18},{"x":78.2,"y":0.14},{"x":79.5,"y":0.18},{"x":80.8,"y":0.14},{"x":82.1,"y":0.32},{"x":83.0,"y":0.45},{"x":84.0,"y":0.59},{"x":85.0,"y":0.69},{"x":86.0,"y":0.83},{"x":86.6,"y":0.90},{"x":87.3,"y":0.79},{"x":87.9,"y":0.66},{"x":88.6,"y":0.45},{"x":89.2,"y":0.04},{"x":89.9,"y":-0.16},{"x":90.9,"y":-0.23},{"x":91.9,"y":-0.30},{"x":93.2,"y":-0.34},{"x":94.5,"y":-0.37},{"x":95.8,"y":-0.34},{"x":97.1,"y":-0.28},{"x":98.4,"y":-0.20},{"x":99.7,"y":-0.16},{"x":100.0,"y":-0.06},{"x":101.6,"y":-0.03},{"x":102.9,"y":-0.10},{"x":104.2,"y":-0.13},{"x":105.6,"y":-0.15},{"x":106.9,"y":-0.13},{"x":108.2,"y":-0.10},{"x":109.5,"y":-0.06},{"x":110.8,"y":-0.03},{"x":112.1,"y":-0.03},{"x":113.4,"y":0.01},{"x":114.7,"y":0.02},{"x":116.0,"y":0.04},{"x":117.3,"y":0.04},{"x":118.6,"y":0.08},{"x":119.9,"y":0.04},{"x":121.2,"y":0.08},{"x":122.5,"y":0.11},{"x":123.8,"y":0.08},{"x":125.1,"y":0.18},{"x":126.4,"y":0.08},{"x":127.7,"y":0.04},{"x":128.4,"y":-0.13},{"x":129.7,"y":-0.20},{"x":131.0,"y":-0.23},{"x":132.3,"y":-0.16},{"x":133.6,"y":-0.20},{"x":134.9,"y":-0.30},{"x":136.2,"y":-0.37},{"x":137.5,"y":-0.40},{"x":138.8,"y":-0.37},{"x":140.1,"y":-0.34},{"x":141.4,"y":-0.32},{"x":142.7,"y":-0.34},{"x":144.1,"y":-0.27},{"x":145.4,"y":-0.23},{"x":146.7,"y":-0.25},{"x":148.0,"y":-0.23},{"x":149.3,"y":-0.20},{"x":150.6,"y":-0.23},{"x":151.6,"y":0.04},{"x":152.5,"y":0.08},{"x":153.5,"y":-0.20},{"x":154.2,"y":-0.51},{"x":154.8,"y":-0.13},{"x":155.8,"y":0.11},{"x":156.8,"y":0.14},{"x":157.8,"y":0.04},{"x":159.1,"y":0.18},{"x":160.1,"y":0.32},{"x":161.0,"y":0.45},{"x":162.4,"y":0.55},{"x":163.7,"y":0.45},{"x":164.6,"y":0.59},{"x":165.6,"y":0.66},{"x":166.6,"y":0.38},{"x":167.6,"y":0.45},{"x":168.9,"y":0.55},{"x":170.2,"y":0.38},{"x":171.5,"y":0.32},{"x":172.8,"y":0.45},{"x":174.1,"y":0.59},{"x":175.4,"y":0.66},{"x":176.7,"y":0.62},{"x":178.0,"y":0.73},{"x":179.3,"y":0.55},{"x":180.7,"y":0.62},{"x":182.0,"y":0.83},{"x":183.3,"y":0.76},{"x":184.6,"y":0.73},{"x":185.9,"y":0.78},{"x":187.2,"y":0.85},{"x":188.1,"y":0.66},{"x":189.1,"y":0.59},{"x":190.4,"y":0.69},{"x":191.8,"y":0.45},{"x":193.1,"y":0.42},{"x":194.1,"y":0.32},{"x":194.7,"y":0.38}],
 "cast": [{"x":3.3,"y":-1.30},{"x":4.9,"y":-1.33},{"x":6.2,"y":-1.36},{"x":7.2,"y":-1.41},{"x":7.9,"y":-1.57},{"x":8.9,"y":-1.60},{"x":9.9,"y":-1.67},{"x":10.9,"y":-1.71},{"x":11.8,"y":-1.74},{"x":12.8,"y":-1.81},{"x":13.8,"y":-1.77},{"x":14.5,"y":-1.88},{"x":15.1,"y":-1.77},{"x":15.8,"y":-1.67},{"x":16.4,"y":-1.64},{"x":16.8,"y":-1.26},{"x":18.1,"y":-1.23},{"x":19.4,"y":-1.26},{"x":20.4,"y":-1.23},{"x":21.1,"y":-1.05},{"x":22.0,"y":-1.05},{"x":22.7,"y":-0.88},{"x":23.4,"y":-0.78},{"x":24.0,"y":-0.61},{"x":25.0,"y":-0.56},{"x":26.0,"y":-0.71},{"x":27.3,"y":-0.73},{"x":28.6,"y":-0.74},{"x":29.9,"y":-0.75},{"x":30.6,"y":-0.75},{"x":31.3,"y":-0.51},{"x":31.9,"y":-0.44},{"x":33.2,"y":-0.44},{"x":34.2,"y":-0.30},{"x":35.2,"y":-0.23},{"x":36.2,"y":-0.13},{"x":37.2,"y":-0.23},{"x":38.2,"y":-0.06},{"x":39.1,"y":-0.03},{"x":40.1,"y":-0.30},{"x":41.1,"y":-0.23},{"x":42.1,"y":-0.27},{"x":43.1,"y":-0.40},{"x":44.4,"y":-0.34},{"x":45.7,"y":-0.40},{"x":47.0,"y":-0.39},{"x":48.0,"y":-0.37},{"x":49.0,"y":-0.40},{"x":50.3,"y":-0.40},{"x":51.6,"y":-0.47},{"x":53.0,"y":-0.35},{"x":54.3,"y":-0.39},{"x":55.6,"y":-0.44},{"x":56.9,"y":-0.51},{"x":57.9,"y":-0.61},{"x":59.2,"y":-0.68},{"x":59.9,"y":-0.78},{"x":60.6,"y":-0.90},{"x":61.2,"y":-0.78},{"x":61.9,"y":-0.68},{"x":62.5,"y":-0.30},{"x":63.1,"y":-0.37},{"x":63.8,"y":-0.30},{"x":64.8,"y":-0.37},{"x":65.8,"y":-0.30},{"x":66.4,"y":-0.23},{"x":67.4,"y":-0.30},{"x":68.4,"y":-0.27},{"x":69.4,"y":-0.23},{"x":70.3,"y":-0.27},{"x":71.6,"y":-0.40},{"x":72.6,"y":-0.47},{"x":73.6,"y":-0.37},{"x":74.6,"y":-0.34},{"x":75.5,"y":-0.37},{"x":76.5,"y":-0.47},{"x":77.5,"y":-0.51},{"x":78.5,"y":-0.61},{"x":79.5,"y":-0.63},{"x":80.8,"y":-0.63},{"x":82.1,"y":-0.64},{"x":83.4,"y":-0.61},{"x":84.7,"y":-0.63},{"x":86.0,"y":-0.61},{"x":86.9,"y":-0.44},{"x":87.9,"y":-0.23},{"x":88.6,"y":-0.13},{"x":89.6,"y":0.01},{"x":90.5,"y":0.08},{"x":91.5,"y":0.11},{"x":92.2,"y":0.32},{"x":92.8,"y":0.04},{"x":93.8,"y":0.01},{"x":95.1,"y":0.01},{"x":96.4,"y":0.01},{"x":97.7,"y":0.02},{"x":99.0,"y":0.04},{"x":100.3,"y":0.08},{"x":101.6,"y":0.09},{"x":102.9,"y":0.11},{"x":104.2,"y":0.13},{"x":105.6,"y":0.08},{"x":106.9,"y":-0.03},{"x":108.2,"y":0.01},{"x":109.5,"y":0.04},{"x":110.8,"y":0.04},{"x":112.1,"y":0.04},{"x":113.4,"y":-0.01},{"x":114.7,"y":0.01},{"x":116.0,"y":0.01},{"x":117.3,"y":0.04},{"x":118.6,"y":0.04},{"x":119.9,"y":0.08},{"x":121.2,"y":0.11},{"x":122.5,"y":0.14},{"x":123.8,"y":0.08},{"x":125.1,"y":0.11},{"x":126.4,"y":0.08},{"x":127.7,"y":0.04},{"x":129.7,"y":0.09},{"x":131.0,"y":0.08},{"x":132.3,"y":0.08},{"x":133.3,"y":-0.16},{"x":134.2,"y":0.11},{"x":135.6,"y":0.11},{"x":136.9,"y":0.08},{"x":138.2,"y":0.14},{"x":139.8,"y":0.13},{"x":141.4,"y":0.04},{"x":143.4,"y":0.04},{"x":145.4,"y":0.04},{"x":147.3,"y":0.04},{"x":149.3,"y":0.06},{"x":151.2,"y":0.08},{"x":152.5,"y":0.01},{"x":153.5,"y":-0.13},{"x":154.5,"y":-0.03},{"x":155.5,"y":0.08},{"x":156.5,"y":0.11},{"x":157.8,"y":-0.16},{"x":159.1,"y":0.25},{"x":160.4,"y":0.32},{"x":161.7,"y":0.28},{"x":162.7,"y":0.18},{"x":163.7,"y":0.04},{"x":165.0,"y":-0.13},{"x":166.0,"y":0.38},{"x":166.9,"y":0.52},{"x":167.6,"y":0.38},{"x":168.6,"y":0.45},{"x":169.5,"y":0.42},{"x":170.2,"y":1.0},{"x":170.8,"y":1.03},{"x":171.5,"y":1.0},{"x":172.2,"y":0.86},{"x":172.8,"y":0.79},{"x":173.5,"y":0.73},{"x":174.1,"y":0.38},{"x":175.1,"y":0.18},{"x":176.1,"y":-0.47},{"x":176.7,"y":-0.99},{"x":177.7,"y":-1.02},{"x":178.7,"y":-1.02},{"x":179.7,"y":-1.05},{"x":180.2,"y":-1.19},{"x":180.7,"y":-0.20},{"x":181.6,"y":-0.10},{"x":182.6,"y":0.04},{"x":183.6,"y":-0.16},{"x":184.6,"y":0.18},{"x":185.9,"y":0.38},{"x":186.9,"y":0.45},{"x":187.5,"y":0.14},{"x":188.5,"y":-0.10},{"x":189.8,"y":0.11},{"x":191.1,"y":0.18},{"x":192.4,"y":0.25},{"x":193.7,"y":0.14},{"x":194.7,"y":0.11}],
 "pwk": [{"x":3.3,"y":-0.10},{"x":4.9,"y":-0.08},{"x":5.5,"y":0.02},{"x":6.9,"y":0.04},{"x":8.2,"y":0.01},{"x":9.5,"y":-0.03},{"x":10.5,"y":0.01},{"x":11.5,"y":-0.06},{"x":12.5,"y":-0.10},{"x":13.5,"y":-0.16},{"x":14.5,"y":-0.23},{"x":15.1,"y":-0.27},{"x":16.1,"y":-0.30},{"x":16.8,"y":-0.37},{"x":17.8,"y":-0.39},{"x":18.8,"y":-0.40},{"x":20.1,"y":-0.39},{"x":21.1,"y":-0.40},{"x":22.4,"y":-0.40},{"x":22.7,"y":-0.16},{"x":23.4,"y":-0.61},{"x":24.0,"y":-0.78},{"x":24.7,"y":-0.88},{"x":25.3,"y":-0.68},{"x":26.0,"y":-0.88},{"x":26.3,"y":-0.68},{"x":27.3,"y":-0.68},{"x":28.6,"y":-0.66},{"x":29.9,"y":-0.68},{"x":31.3,"y":-0.61},{"x":31.9,"y":-0.40},{"x":32.6,"y":-0.03},{"x":33.2,"y":0.04},{"x":33.6,"y":-0.30},{"x":33.9,"y":0.01},{"x":34.5,"y":-0.23},{"x":35.2,"y":-0.13},{"x":35.9,"y":-0.16},{"x":36.5,"y":-0.30},{"x":37.5,"y":-0.32},{"x":38.5,"y":-0.32},{"x":39.5,"y":-0.30},{"x":40.5,"y":-0.37},{"x":41.5,"y":-0.40},{"x":42.4,"y":-0.44},{"x":43.8,"y":-0.64},{"x":44.7,"y":-0.61},{"x":45.7,"y":-0.47},{"x":47.0,"y":-0.44},{"x":48.0,"y":-0.44},{"x":49.0,"y":-0.37},{"x":49.3,"y":-0.13},{"x":50.3,"y":-0.13},{"x":51.6,"y":-0.16},{"x":52.0,"y":0.18},{"x":53.0,"y":0.14},{"x":54.0,"y":0.04},{"x":54.9,"y":0.25},{"x":56.3,"y":0.25},{"x":57.2,"y":0.32},{"x":58.2,"y":0.25},{"x":59.5,"y":0.28},{"x":60.9,"y":0.38},{"x":61.9,"y":0.59},{"x":62.8,"y":0.35},{"x":63.8,"y":0.42},{"x":64.5,"y":0.69},{"x":65.5,"y":0.66},{"x":66.1,"y":0.62},{"x":66.4,"y":0.04},{"x":67.7,"y":0.01},{"x":69.0,"y":0.02},{"x":70.3,"y":0.04},{"x":71.3,"y":0.04},{"x":71.9,"y":0.08},{"x":72.6,"y":-0.23},{"x":73.6,"y":-0.30},{"x":74.2,"y":-0.51},{"x":75.2,"y":-0.44},{"x":76.2,"y":-0.37},{"x":77.2,"y":-0.47},{"x":78.2,"y":-0.51},{"x":78.8,"y":-0.75},{"x":79.5,"y":-0.64},{"x":80.1,"y":-0.47},{"x":81.1,"y":-0.37},{"x":82.1,"y":-0.27},{"x":83.0,"y":-0.23},{"x":83.7,"y":-0.27},{"x":84.0,"y":-0.58},{"x":85.0,"y":-0.61},{"x":86.0,"y":-0.64},{"x":86.6,"y":-0.78},{"x":87.3,"y":-0.58},{"x":87.9,"y":-0.44},{"x":88.6,"y":-0.23},{"x":89.6,"y":-0.16},{"x":90.5,"y":-0.20},{"x":91.2,"y":-0.23},{"x":91.9,"y":-0.20},{"x":92.5,"y":-0.16},{"x":93.2,"y":-0.16},{"x":93.8,"y":-0.13},{"x":95.1,"y":-0.10},{"x":96.4,"y":-0.06},{"x":97.4,"y":-0.20},{"x":98.4,"y":-0.23},{"x":99.0,"y":-0.23},{"x":99.4,"y":-0.46},{"x":100.3,"y":-0.40},{"x":101.6,"y":-0.42},{"x":102.9,"y":-0.42},{"x":104.2,"y":-0.42},{"x":105.6,"y":-0.40},{"x":106.2,"y":-0.52},{"x":107.5,"y":-0.52},{"x":109.5,"y":-0.51},{"x":111.4,"y":-0.51},{"x":113.4,"y":-0.51},{"x":115.3,"y":-0.51},{"x":116.6,"y":-0.64},{"x":117.6,"y":-0.75},{"x":118.6,"y":-0.78},{"x":119.3,"y":-0.64},{"x":119.9,"y":-0.58},{"x":121.2,"y":-0.54},{"x":122.5,"y":-0.51},{"x":123.8,"y":-0.47},{"x":125.1,"y":-0.51},{"x":126.4,"y":-0.58},{"x":127.7,"y":-0.56},{"x":128.4,"y":-0.54},{"x":129.7,"y":-0.51},{"x":130.7,"y":-0.37},{"x":131.6,"y":-0.30},{"x":132.9,"y":-0.23},{"x":134.2,"y":-0.47},{"x":135.6,"y":-0.37},{"x":136.9,"y":-0.40},{"x":138.2,"y":-0.44},{"x":139.5,"y":-0.40},{"x":140.8,"y":-0.42},{"x":142.1,"y":-0.40},{"x":143.4,"y":-0.37},{"x":144.7,"y":-0.30},{"x":146.0,"y":-0.28},{"x":147.3,"y":-0.27},{"x":148.6,"y":-0.27},{"x":149.9,"y":-0.27},{"x":150.9,"y":-0.23},{"x":151.9,"y":-0.23},{"x":152.9,"y":-0.37},{"x":153.5,"y":-0.61},{"x":154.2,"y":-0.64},{"x":155.2,"y":-0.58},{"x":156.1,"y":-0.61},{"x":157.1,"y":-0.40},{"x":158.1,"y":-0.30},{"x":158.7,"y":-0.44},{"x":159.7,"y":-0.71},{"x":160.7,"y":-0.58},{"x":161.7,"y":-0.51},{"x":162.7,"y":-0.44},{"x":163.7,"y":-0.37},{"x":164.6,"y":-0.47},{"x":165.6,"y":-0.40},{"x":166.6,"y":-0.20},{"x":167.6,"y":0.35},{"x":168.6,"y":0.14},{"x":169.5,"y":0.11},{"x":170.5,"y":-0.13},{"x":171.5,"y":0.11},{"x":172.8,"y":-0.06},{"x":174.1,"y":-0.03},{"x":175.4,"y":0.01},{"x":176.7,"y":-0.01},{"x":178.0,"y":0.04},{"x":179.3,"y":-0.03},{"x":180.7,"y":-0.03},{"x":182.0,"y":-0.16},{"x":183.3,"y":-0.03},{"x":184.6,"y":-0.06},{"x":185.9,"y":-0.23},{"x":187.2,"y":0.04},{"x":188.1,"y":-0.30},{"x":189.1,"y":0.08},{"x":190.1,"y":-0.03},{"x":191.1,"y":0.32},{"x":192.1,"y":-0.03},{"x":192.7,"y":0.59},{"x":193.4,"y":-0.03},{"x":194.1,"y":0.26},{"x":194.7,"y":0.25}],
 "wsb": [{"x":3.3,"y":0.89},{"x":4.9,"y":0.89},{"x":7.6,"y":0.89},{"x":8.2,"y":0.76},{"x":9.9,"y":0.73},{"x":10.5,"y":0.83},{"x":11.5,"y":0.79},{"x":12.8,"y":0.83},{"x":13.8,"y":0.86},{"x":14.5,"y":0.79},{"x":15.1,"y":0.69},{"x":16.1,"y":0.59},{"x":16.8,"y":0.49},{"x":17.4,"y":0.42},{"x":18.1,"y":0.45},{"x":18.8,"y":0.32},{"x":19.4,"y":0.38},{"x":20.4,"y":0.49},{"x":21.1,"y":0.55},{"x":22.0,"y":0.42},{"x":23.4,"y":0.25},{"x":24.3,"y":0.52},{"x":25.3,"y":0.69},{"x":26.0,"y":0.32},{"x":27.3,"y":0.32},{"x":28.6,"y":0.32},{"x":29.9,"y":0.35},{"x":31.3,"y":0.28},{"x":32.2,"y":0.08},{"x":32.9,"y":0.49},{"x":33.9,"y":0.52},{"x":34.9,"y":0.52},{"x":35.5,"y":0.38},{"x":36.5,"y":0.32},{"x":37.8,"y":0.25},{"x":39.1,"y":0.28},{"x":40.5,"y":0.32},{"x":41.8,"y":0.32},{"x":42.4,"y":-0.06},{"x":43.1,"y":0.18},{"x":44.0,"y":-0.06},{"x":44.7,"y":-0.30},{"x":45.7,"y":-0.23},{"x":47.0,"y":-0.23},{"x":48.0,"y":-0.27},{"x":49.0,"y":-0.30},{"x":50.3,"y":-0.30},{"x":51.6,"y":-0.27},{"x":53.0,"y":-0.27},{"x":54.3,"y":-0.40},{"x":55.3,"y":-0.54},{"x":56.3,"y":-0.51},{"x":57.2,"y":-0.61},{"x":58.2,"y":-0.64},{"x":59.2,"y":-0.71},{"x":59.9,"y":-0.61},{"x":61.2,"y":-0.61},{"x":62.2,"y":-0.58},{"x":62.8,"y":-0.30},{"x":63.5,"y":-0.47},{"x":64.5,"y":-0.40},{"x":65.1,"y":-0.64},{"x":65.8,"y":-0.51},{"x":66.4,"y":-0.44},{"x":67.4,"y":-0.40},{"x":68.4,"y":-0.40},{"x":69.7,"y":-0.40},{"x":70.7,"y":-0.37},{"x":71.6,"y":-0.40},{"x":72.3,"y":-0.16},{"x":72.9,"y":0.11},{"x":73.9,"y":0.28},{"x":74.9,"y":0.25},{"x":76.2,"y":0.23},{"x":77.5,"y":0.25},{"x":78.8,"y":0.21},{"x":80.1,"y":0.23},{"x":81.1,"y":0.18},{"x":81.7,"y":0.11},{"x":82.4,"y":0.18},{"x":83.7,"y":0.14},{"x":85.0,"y":0.18},{"x":86.0,"y":0.11},{"x":86.6,"y":0.04},{"x":87.3,"y":-0.10},{"x":87.9,"y":-0.16},{"x":88.6,"y":-0.23},{"x":89.2,"y":-0.20},{"x":89.9,"y":-0.37},{"x":90.5,"y":-0.51},{"x":91.2,"y":-0.64},{"x":91.9,"y":-0.78},{"x":92.5,"y":-0.92},{"x":93.2,"y":-0.85},{"x":93.8,"y":-0.58},{"x":94.5,"y":-0.51},{"x":95.4,"y":-0.44},{"x":96.4,"y":-0.40},{"x":97.7,"y":-0.40},{"x":99.0,"y":-0.37},{"x":100.0,"y":-0.30},{"x":101.6,"y":-0.32},{"x":102.9,"y":-0.34},{"x":104.2,"y":-0.32},{"x":105.6,"y":-0.37},{"x":106.9,"y":-0.34},{"x":108.2,"y":-0.30},{"x":109.5,"y":-0.51},{"x":111.4,"y":-0.51},{"x":113.4,"y":-0.51},{"x":115.3,"y":-0.51},{"x":116.0,"y":-0.61},{"x":117.3,"y":-0.58},{"x":118.6,"y":-0.54},{"x":119.9,"y":-0.51},{"x":121.2,"y":-0.47},{"x":122.5,"y":-0.37},{"x":123.8,"y":-0.40},{"x":125.1,"y":-0.34},{"x":126.4,"y":-0.23},{"x":127.7,"y":-0.16},{"x":128.4,"y":-0.10},{"x":129.7,"y":-0.27},{"x":131.0,"y":-0.30},{"x":132.3,"y":-0.23},{"x":133.6,"y":-0.20},{"x":134.9,"y":-0.10},{"x":136.2,"y":-0.03},{"x":137.5,"y":0.01},{"x":138.8,"y":-0.01},{"x":140.1,"y":-0.03},{"x":141.4,"y":-0.04},{"x":142.7,"y":-0.06},{"x":144.1,"y":-0.13},{"x":145.4,"y":-0.16},{"x":146.7,"y":-0.13},{"x":148.0,"y":-0.10},{"x":149.3,"y":-0.11},{"x":150.6,"y":-0.10},{"x":151.6,"y":-0.03},{"x":152.5,"y":0.08},{"x":153.5,"y":0.01},{"x":154.5,"y":0.11},{"x":155.5,"y":0.32},{"x":156.1,"y":0.42},{"x":157.1,"y":0.18},{"x":158.1,"y":0.25},{"x":159.1,"y":-0.16},{"x":160.1,"y":-0.06},{"x":161.0,"y":0.04},{"x":162.4,"y":0.01},{"x":163.7,"y":-0.06},{"x":164.6,"y":0.18},{"x":165.6,"y":0.11},{"x":166.6,"y":0.04},{"x":167.6,"y":0.32},{"x":168.9,"y":0.38},{"x":169.9,"y":0.21},{"x":170.5,"y":0.01},{"x":171.5,"y":-0.03},{"x":172.8,"y":-0.13},{"x":174.1,"y":-0.30},{"x":175.4,"y":-0.23},{"x":176.7,"y":-0.16},{"x":178.0,"y":-0.23},{"x":179.3,"y":-0.16},{"x":180.7,"y":-0.20},{"x":182.0,"y":-0.16},{"x":183.3,"y":-0.47},{"x":184.6,"y":-0.51},{"x":185.9,"y":-0.37},{"x":187.2,"y":-0.23},{"x":188.5,"y":-0.51},{"x":189.8,"y":-0.10},{"x":191.1,"y":0.04},{"x":192.4,"y":-0.06},{"x":193.4,"y":-0.16},{"x":194.1,"y":-0.37},{"x":194.7,"y":-0.58}],
 "lodc": [{"x":3.0,"l":5.04},{"x":4.4,"l":5.04},{"x":4.9,"l":5.4},{"x":5.5,"l":5.48},{"x":6.2,"l":5.6},{"x":6.7,"l":5.76},{"x":7.2,"l":5.9},{"x":7.6,"l":6.84},{"x":7.9,"l":6.92},{"x":8.4,"l":6.7},{"x":9.5,"l":6.7},{"x":9.8,"l":7.06},{"x":10.2,"l":7.0},{"x":10.5,"l":7.45},{"x":10.9,"l":7.28},{"x":11.3,"l":7.49},{"x":11.6,"l":7.0},{"x":11.9,"l":7.0},{"x":12.2,"l":7.35},{"x":12.5,"l":7.56},{"x":12.8,"l":7.85},{"x":13.2,"l":7.93},{"x":13.5,"l":7.71},{"x":13.7,"l":7.85},{"x":14.1,"l":7.82},{"x":14.4,"l":7.28},{"x":14.6,"l":6.63},{"x":14.9,"l":6.56},{"x":15.3,"l":6.2},{"x":15.9,"l":6.05},{"x":16.4,"l":5.98},{"x":16.7,"l":5.9},{"x":16.8,"l":4.18},{"x":17.3,"l":4.1},{"x":17.7,"l":4.03},{"x":18.2,"l":3.75},{"x":18.8,"l":3.46},{"x":19.4,"l":3.39},{"x":19.7,"l":3.46},{"x":20.1,"l":3.17},{"x":20.6,"l":3.1},{"x":21.0,"l":2.95},{"x":21.6,"l":3.1},{"x":22.0,"l":2.67},{"x":22.5,"l":3.03},{"x":22.9,"l":2.38},{"x":23.4,"l":2.3},{"x":23.7,"l":1.73},{"x":23.9,"l":2.38},{"x":24.3,"l":2.67},{"x":24.8,"l":2.81},{"x":25.3,"l":3.03},{"x":25.7,"l":2.81},{"x":26.0,"l":2.49},{"x":26.5,"l":2.49},{"x":27.4,"l":2.52},{"x":28.3,"l":2.49},{"x":29.3,"l":2.45},{"x":30.3,"l":2.38},{"x":31.0,"l":2.16},{"x":31.6,"l":1.95},{"x":32.0,"l":1.66},{"x":32.3,"l":1.3},{"x":32.6,"l":1.87},{"x":33.0,"l":2.02},{"x":33.4,"l":2.09},{"x":33.8,"l":2.81},{"x":34.0,"l":2.09},{"x":34.4,"l":2.09},{"x":34.8,"l":1.95},{"x":35.1,"l":1.37},{"x":35.5,"l":1.08},{"x":36.0,"l":0.86},{"x":36.5,"l":1.01},{"x":37.1,"l":0.86},{"x":37.5,"l":0.43},{"x":37.8,"l":0.94},{"x":38.2,"l":0.72},{"x":38.6,"l":1.08},{"x":39.2,"l":1.22},{"x":39.9,"l":1.3},{"x":40.2,"l":1.22},{"x":40.6,"l":1.22},{"x":41.0,"l":0.94},{"x":41.3,"l":0.79},{"x":41.7,"l":0.86},{"x":42.0,"l":1.51},{"x":42.3,"l":2.02},{"x":42.7,"l":2.09},{"x":43.4,"l":2.16},{"x":44.5,"l":2.16},{"x":45.1,"l":2.09},{"x":45.8,"l":2.02},{"x":46.5,"l":1.95},{"x":47.2,"l":2.02},{"x":48.3,"l":2.06},{"x":49.3,"l":2.12},{"x":50.4,"l":2.16},{"x":51.0,"l":2.3},{"x":51.5,"l":2.95},{"x":51.8,"l":2.74},{"x":52.2,"l":2.95},{"x":52.5,"l":2.52},{"x":53.1,"l":2.38},{"x":53.6,"l":1.95},{"x":53.9,"l":2.02},{"x":54.5,"l":1.95},{"x":55.0,"l":2.52},{"x":55.5,"l":2.67},{"x":55.9,"l":2.23},{"x":56.4,"l":2.3},{"x":56.9,"l":2.59},{"x":57.5,"l":2.81},{"x":58.0,"l":2.88},{"x":58.5,"l":2.95},{"x":59.0,"l":2.74},{"x":59.4,"l":2.38},{"x":59.9,"l":2.09},{"x":60.4,"l":2.23},{"x":61.0,"l":2.16},{"x":61.5,"l":2.23},{"x":62.0,"l":2.23},{"x":62.5,"l":1.37},{"x":62.9,"l":1.22},{"x":63.4,"l":1.22},{"x":63.9,"l":1.3},{"x":64.4,"l":1.44},{"x":65.0,"l":1.51},{"x":65.5,"l":1.51},{"x":66.0,"l":1.37},{"x":66.6,"l":1.08},{"x":67.3,"l":1.15},{"x":68.0,"l":1.01},{"x":68.7,"l":0.94},{"x":69.4,"l":0.86},{"x":70.1,"l":0.86},{"x":70.8,"l":0.86},{"x":71.5,"l":1.15},{"x":72.0,"l":0.58},{"x":72.5,"l":0.86},{"x":73.0,"l":1.22},{"x":73.6,"l":0.79},{"x":74.1,"l":1.22},{"x":74.6,"l":0.86},{"x":75.3,"l":0.72},{"x":76.0,"l":0.65},{"x":76.7,"l":0.65},{"x":77.4,"l":0.79},{"x":77.8,"l":1.08},{"x":78.3,"l":2.02},{"x":78.8,"l":1.95},{"x":79.3,"l":1.73},{"x":79.9,"l":1.66},{"x":80.6,"l":1.44},{"x":81.3,"l":1.3},{"x":82.0,"l":1.22},{"x":82.7,"l":1.51},{"x":83.4,"l":1.73},{"x":84.1,"l":2.02},{"x":84.8,"l":2.09},{"x":85.5,"l":2.16},{"x":86.1,"l":2.38},{"x":86.6,"l":2.88},{"x":87.1,"l":2.16},{"x":87.7,"l":2.02},{"x":88.2,"l":1.22},{"x":88.8,"l":1.3},{"x":89.3,"l":1.22},{"x":89.8,"l":1.58},{"x":90.3,"l":1.37},{"x":90.9,"l":1.8},{"x":91.4,"l":1.87},{"x":91.9,"l":2.16},{"x":92.3,"l":2.38},{"x":92.8,"l":2.23},{"x":93.3,"l":2.59},{"x":93.8,"l":2.3},{"x":94.4,"l":2.52},{"x":94.9,"l":2.3},{"x":95.2,"l":2.67},{"x":95.6,"l":1.8},{"x":96.5,"l":1.8},{"x":97.5,"l":1.87},{"x":98.6,"l":1.8},{"x":99.6,"l":1.87},{"x":100.4,"l":1.66},{"x":101.1,"l":1.73},{"x":101.8,"l":1.58},{"x":102.5,"l":1.8},{"x":103.5,"l":1.87},{"x":104.6,"l":1.95},{"x":105.3,"l":2.02},{"x":105.8,"l":2.12},{"x":106.2,"l":1.8},{"x":106.7,"l":1.3},{"x":107.6,"l":1.3},{"x":108.4,"l":1.37},{"x":109.5,"l":1.37},{"x":110.5,"l":1.34},{"x":111.6,"l":1.34},{"x":112.6,"l":1.3},{"x":113.7,"l":1.15},{"x":114.7,"l":1.01},{"x":115.8,"l":1.01},{"x":116.0,"l":1.58},{"x":116.7,"l":1.58},{"x":117.4,"l":1.87},{"x":118.1,"l":2.09},{"x":118.8,"l":2.23},{"x":119.3,"l":2.02},{"x":119.7,"l":1.95},{"x":120.0,"l":1.87},{"x":120.4,"l":1.66},{"x":120.7,"l":1.51},{"x":121.2,"l":1.37},{"x":121.6,"l":1.44},{"x":122.1,"l":1.08},{"x":122.8,"l":0.79},{"x":123.5,"l":0.72},{"x":124.2,"l":0.65},{"x":124.7,"l":0.48},{"x":125.3,"l":0.65},{"x":126.0,"l":0.58},{"x":126.7,"l":0.5},{"x":127.4,"l":0.48},{"x":128.1,"l":0.43},{"x":128.7,"l":0.58},{"x":129.1,"l":0.72},{"x":129.8,"l":0.72},{"x":130.5,"l":0.79},{"x":131.3,"l":0.86},{"x":131.7,"l":0.65},{"x":132.2,"l":0.94},{"x":133.0,"l":0.94},{"x":133.7,"l":1.08},{"x":134.4,"l":1.15},{"x":135.1,"l":1.15},{"x":135.7,"l":1.37},{"x":136.2,"l":1.08},{"x":136.9,"l":1.22},{"x":137.4,"l":1.01},{"x":137.9,"l":1.3},{"x":138.5,"l":1.37},{"x":139.0,"l":1.22},{"x":139.7,"l":1.3},{"x":140.7,"l":1.22},{"x":141.8,"l":1.3},{"x":142.8,"l":1.37},{"x":143.9,"l":1.51},{"x":144.6,"l":1.58},{"x":145.6,"l":1.58},{"x":146.3,"l":1.66},{"x":147.1,"l":1.58},{"x":147.9,"l":1.37},{"x":148.8,"l":1.3},{"x":149.5,"l":1.15},{"x":150.2,"l":1.22},{"x":150.9,"l":1.22},{"x":151.3,"l":1.34},{"x":151.6,"l":1.08},{"x":152.3,"l":0.94},{"x":152.8,"l":0.5},{"x":153.4,"l":0.43},{"x":153.9,"l":0.65},{"x":154.4,"l":1.08},{"x":154.9,"l":1.08},{"x":155.3,"l":0.94},{"x":155.8,"l":0.86},{"x":156.3,"l":0.79},{"x":156.9,"l":0.86},{"x":157.4,"l":0.65},{"x":157.9,"l":0.43},{"x":158.4,"l":0.29},{"x":158.8,"l":0.5},{"x":159.3,"l":0.79},{"x":159.8,"l":1.01},{"x":160.4,"l":1.22},{"x":161.0,"l":1.44},{"x":161.5,"l":1.66},{"x":161.8,"l":1.44},{"x":162.4,"l":1.3},{"x":162.9,"l":1.37},{"x":163.2,"l":0.65},{"x":163.8,"l":0.5},{"x":164.3,"l":1.01},{"x":164.7,"l":0.79},{"x":165.3,"l":0.86},{"x":165.9,"l":1.3},{"x":166.4,"l":0.94},{"x":166.9,"l":0.5},{"x":167.4,"l":0.72},{"x":168.0,"l":0.86},{"x":168.5,"l":0.36},{"x":168.8,"l":0.79},{"x":169.4,"l":0.94},{"x":169.9,"l":1.08},{"x":170.4,"l":1.01},{"x":170.8,"l":1.37},{"x":171.3,"l":1.22},{"x":171.8,"l":1.08},{"x":172.3,"l":0.86},{"x":172.9,"l":0.94},{"x":173.4,"l":0.94},{"x":173.8,"l":0.65},{"x":174.4,"l":0.86},{"x":175.1,"l":0.94},{"x":175.8,"l":0.86},{"x":176.2,"l":1.8},{"x":176.5,"l":2.38},{"x":176.9,"l":1.95},{"x":177.2,"l":1.3},{"x":177.6,"l":1.51},{"x":177.8,"l":2.67},{"x":178.3,"l":2.88},{"x":178.8,"l":2.95},{"x":179.4,"l":2.67},{"x":179.9,"l":2.52},{"x":180.4,"l":2.74},{"x":180.9,"l":2.81},{"x":181.5,"l":3.1},{"x":182.0,"l":3.03},{"x":182.5,"l":2.67},{"x":183.0,"l":2.88},{"x":183.4,"l":2.38},{"x":183.9,"l":2.67},{"x":184.4,"l":2.52},{"x":184.8,"l":2.45},{"x":185.3,"l":2.88},{"x":185.8,"l":2.95},{"x":186.2,"l":3.24},{"x":186.7,"l":3.1},{"x":187.1,"l":3.24},{"x":187.4,"l":3.6},{"x":187.8,"l":2.95},{"x":188.1,"l":2.09},{"x":188.5,"l":1.15},{"x":188.8,"l":1.66},{"x":189.2,"l":1.22},{"x":189.5,"l":2.23},{"x":189.9,"l":1.15},{"x":190.4,"l":1.8},{"x":190.8,"l":1.37},{"x":191.3,"l":2.23},{"x":191.9,"l":1.22},{"x":192.3,"l":1.95},{"x":192.8,"l":2.38},{"x":193.4,"l":1.51},{"x":193.9,"l":1.95},{"x":194.5,"l":1.8},{"x":194.9,"l":2.23}]
},
"vconcat": [
 {
  "width": 977, "height": 645,
  "view": {"stroke": "#555555", "strokeWidth": 1},
  "layer": [
   {"data": {"name": "chroms"}, "transform": [{"filter": "datum.shade == 1"}],
    "mark": {"type": "rect", "color": "#CCCCCC"},
    "encoding": {"x": {"field": "start", "type": "quantitative", "scale": {"domain": [0, 2634], "nice": false, "zero": false}, "axis": null}, "x2": {"field": "end"}}},
   {"data": {"values": [{}]}, "mark": {"type": "rule", "color": "#FF0000", "strokeWidth": 1.4}, "encoding": {"y": {"datum": 7.55, "type": "quantitative"}}},
   {"data": {"values": [{}]}, "mark": {"type": "rule", "color": "#EDB44A", "strokeWidth": 1.2}, "encoding": {"y": {"datum": 7.15, "type": "quantitative"}}},
   {"data": {"values": [{}]}, "mark": {"type": "rule", "color": "#EDB44A", "strokeWidth": 1.2}, "encoding": {"y": {"datum": 5.76, "type": "quantitative"}}},
   {"data": {"name": "scan"}, "mark": {"type": "line", "color": "#000000", "strokeWidth": 2.7},
    "encoding": {"x": {"field": "p", "type": "quantitative", "scale": {"domain": [0, 2634], "nice": false, "zero": false}, "axis": null},
     "y": {"field": "l", "type": "quantitative", "scale": {"domain": [-0.335, 8.675], "nice": false, "zero": false},
      "axis": {"values": [0, 2, 4, 6, 8], "tickSize": 14, "labelPadding": 15, "domain": false, "title": "lod", "titlePadding": 50}}}},
   {"data": {"name": "chroms"}, "mark": {"type": "text", "font": "Liberation Sans", "fontWeight": "bold", "fontSize": 21, "color": "#000"},
    "encoding": {"x": {"field": "mid", "type": "quantitative"}, "y": {"datum": 8.24, "type": "quantitative"}, "text": {"field": "chr"}}},
   {"data": {"name": "arrA"}, "mark": {"type": "rule", "color": "#000", "strokeWidth": 1.5},
    "encoding": {"x": {"field": "x", "type": "quantitative"}, "x2": {"field": "x2"}, "y": {"field": "y", "type": "quantitative"}, "y2": {"field": "y2"}}},
   {"data": {"values": [{}]}, "mark": {"type": "text", "font": "Lato", "fontStyle": "italic", "fontWeight": "bold", "fontSize": 22, "color": "#000"},
    "encoding": {"x": {"datum": 415, "type": "quantitative"}, "y": {"datum": 6.72, "type": "quantitative"}, "text": {"value": "Nociq4"}}},
   {"data": {"values": [{}]}, "mark": {"type": "text", "font": "Liberation Sans", "fontWeight": "bold", "fontSize": 25, "align": "left", "color": "#000"},
    "encoding": {"x": {"datum": -331.7, "type": "quantitative"}, "y": {"datum": 8.34, "type": "quantitative"}, "text": {"value": "A."}}}
  ]
 },
 {
  "width": 977, "height": 464,
  "layer": [
   {"data": {"name": "grid"}, "mark": {"type": "rule", "color": "#CCCCCC", "strokeWidth": 2},
    "encoding": {"x": {"field": "m", "type": "quantitative", "scale": {"domain": [3, 195], "nice": false, "zero": false}, "axis": null}}},
   {"data": {"name": "aj"}, "mark": {"type": "line", "strokeWidth": 1.6, "interpolate": "step-after"},
    "encoding": {"x": {"field": "x", "type": "quantitative", "scale": {"domain": [3, 195], "nice": false, "zero": false}, "axis": null},
     "y": {"field": "y", "type": "quantitative", "scale": {"domain": [-2.07, 2.705], "nice": false, "zero": false},
      "axis": {"values": [-2, -1, 0, 1, 2], "tickSize": 14, "labelPadding": 15, "domain": true, "domainWidth": 2, "title": "Founder Effects", "titlePadding": 40}},
     "color": {"datum": "A/J", "type": "nominal",
      "scale": {"domain": ["A/J", "C57BL/6J", "129S1/SvImJ", "NOD/ShiLtJ", "NZO/HlLtJ", "CAST/EiJ", "PWK/PhJ", "WSB/EiJ"], "range": ["#F0F000", "#808080", "#F08080", "#1010F0", "#00A0F0", "#00A000", "#F00000", "#9000E0"]},
      "legend": {"orient": "none", "legendX": 798, "legendY": 645, "title": null, "symbolType": "M-2.77,0H2.77", "symbolSize": 169, "symbolStrokeWidth": 2, "labelFont": "Liberation Sans", "labelFontSize": 15, "labelColor": "#000", "strokeColor": "#000", "fillColor": "#FFFFFF", "padding": 10, "rowPadding": -0.5, "labelOffset": 20, "symbolOffset": 17.5}}}},
   {"data": {"name": "b6"}, "mark": {"type": "line", "strokeWidth": 1.6, "interpolate": "step-after"}, "encoding": {"x": {"field": "x", "type": "quantitative"}, "y": {"field": "y", "type": "quantitative"}, "color": {"datum": "C57BL/6J", "type": "nominal"}}},
   {"data": {"name": "s129"}, "mark": {"type": "line", "strokeWidth": 1.6, "interpolate": "step-after"}, "encoding": {"x": {"field": "x", "type": "quantitative"}, "y": {"field": "y", "type": "quantitative"}, "color": {"datum": "129S1/SvImJ", "type": "nominal"}}},
   {"data": {"name": "nod"}, "mark": {"type": "line", "strokeWidth": 1.6, "interpolate": "step-after"}, "encoding": {"x": {"field": "x", "type": "quantitative"}, "y": {"field": "y", "type": "quantitative"}, "color": {"datum": "NOD/ShiLtJ", "type": "nominal"}}},
   {"data": {"name": "nzo"}, "mark": {"type": "line", "strokeWidth": 1.6, "interpolate": "step-after"}, "encoding": {"x": {"field": "x", "type": "quantitative"}, "y": {"field": "y", "type": "quantitative"}, "color": {"datum": "NZO/HlLtJ", "type": "nominal"}}},
   {"data": {"name": "cast"}, "mark": {"type": "line", "strokeWidth": 1.6, "interpolate": "step-after"}, "encoding": {"x": {"field": "x", "type": "quantitative"}, "y": {"field": "y", "type": "quantitative"}, "color": {"datum": "CAST/EiJ", "type": "nominal"}}},
   {"data": {"name": "pwk"}, "mark": {"type": "line", "strokeWidth": 1.6, "interpolate": "step-after"}, "encoding": {"x": {"field": "x", "type": "quantitative"}, "y": {"field": "y", "type": "quantitative"}, "color": {"datum": "PWK/PhJ", "type": "nominal"}}},
   {"data": {"name": "wsb"}, "mark": {"type": "line", "strokeWidth": 1.6, "interpolate": "step-after"}, "encoding": {"x": {"field": "x", "type": "quantitative"}, "y": {"field": "y", "type": "quantitative"}, "color": {"datum": "WSB/EiJ", "type": "nominal"}}},
   {"data": {"name": "arrB"}, "mark": {"type": "rule", "color": "#000", "strokeWidth": 1.5},
    "encoding": {"x": {"field": "x", "type": "quantitative"}, "x2": {"field": "x2"}, "y": {"field": "y", "type": "quantitative"}, "y2": {"field": "y2"}}},
   {"data": {"values": [{}]}, "mark": {"type": "text", "font": "Lato", "fontStyle": "italic", "fontWeight": "bold", "fontSize": 22, "color": "#000"},
    "encoding": {"x": {"datum": 13.6, "type": "quantitative"}, "y": {"datum": 1.41, "type": "quantitative"}, "text": {"value": "Nociq4"}}},
   {"data": {"values": [{}]}, "mark": {"type": "text", "font": "Lato", "fontWeight": "bold", "fontSize": 22, "align": "left", "color": "#000"},
    "encoding": {"x": {"datum": 38.0, "type": "quantitative"}, "y": {"datum": 1.04, "type": "quantitative"}, "text": {"value": "C57BL/6J"}}},
   {"data": {"values": [{}]}, "mark": {"type": "text", "font": "Lato", "fontWeight": "bold", "fontSize": 22, "align": "left", "color": "#000"},
    "encoding": {"x": {"datum": 38.0, "type": "quantitative"}, "y": {"datum": -1.53, "type": "quantitative"}, "text": {"value": "CAST/EiJ"}}},
   {"data": {"values": [{}]}, "mark": {"type": "text", "font": "Liberation Sans", "fontWeight": "bold", "fontSize": 25, "align": "left", "color": "#000"},
    "encoding": {"x": {"datum": -21.2, "type": "quantitative"}, "y": {"datum": 2.46, "type": "quantitative"}, "text": {"value": "B."}}}
  ]
 },
 {
  "width": 977, "height": 190,
  "layer": [
   {"data": {"values": [{"a": 7.56, "b": 14.45}]}, "mark": {"type": "rect", "color": "#E1E1FA"},
    "encoding": {"x": {"field": "a", "type": "quantitative", "scale": {"domain": [3, 195], "nice": false, "zero": false}}, "x2": {"field": "b"}}},
   {"data": {"name": "grid"}, "mark": {"type": "rule", "color": "#CCCCCC", "strokeWidth": 2},
    "encoding": {"x": {"field": "m", "type": "quantitative"}}},
   {"data": {"values": [{}]}, "mark": {"type": "rule", "color": "#000", "strokeWidth": 2}, "encoding": {"y": {"datum": 8.25, "type": "quantitative"}}},
   {"data": {"name": "lodc"}, "mark": {"type": "line", "color": "#000", "strokeWidth": 1.6},
    "encoding": {"x": {"field": "x", "type": "quantitative", "scale": {"domain": [3, 195], "nice": false, "zero": false},
      "axis": {"values": [50, 100, 150], "tickSize": 14, "labelPadding": 19, "domainWidth": 2, "title": "Chr 1", "titlePadding": 5}},
     "y": {"field": "l", "type": "quantitative", "scale": {"domain": [0, 8.25], "nice": false, "zero": false},
      "axis": {"values": [0, 2, 4, 6, 8], "tickSize": 14, "labelPadding": 15, "domainWidth": 2, "title": "LOD", "titlePadding": 48}}}},
   {"data": {"values": [{}]}, "mark": {"type": "text", "font": "Liberation Sans", "fontWeight": "bold", "fontSize": 25, "align": "left", "color": "#000"},
    "encoding": {"x": {"datum": -21.2, "type": "quantitative"}, "y": {"datum": 7.55, "type": "quantitative"}, "text": {"value": "C."}}}
  ]
 }
]
}
